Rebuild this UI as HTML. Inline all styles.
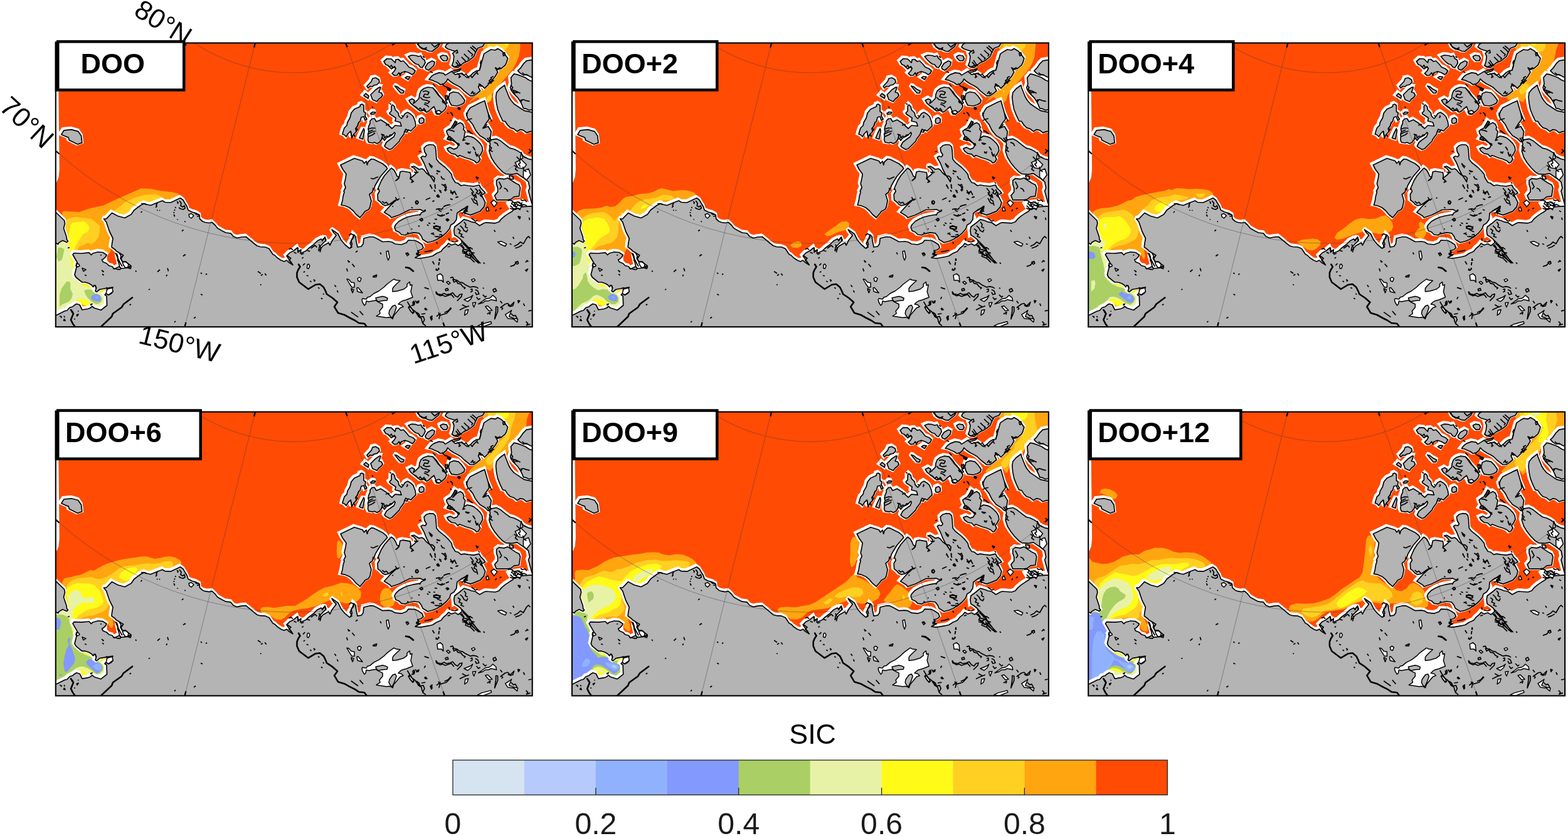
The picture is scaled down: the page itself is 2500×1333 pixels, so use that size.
<!DOCTYPE html>
<html lang="en"><head><meta charset="utf-8"><title>SIC after DOO</title>
<style>html,body{margin:0;padding:0;background:#fff}body{width:2500px;height:1333px;overflow:hidden}svg{display:block}text{font-family:"Liberation Sans",Arial,Helvetica,sans-serif;fill:#000}.lab{font-weight:700;font-size:45px}.ax{font-size:43.5px}.tk{font-size:48.2px;text-anchor:middle;fill:#1a1a1a}</style></head><body>
<svg xmlns="http://www.w3.org/2000/svg" width="2500" height="1333" viewBox="0 0 2500 1333">
<defs>
<clipPath id="pc"><rect x="88.8" y="68.5" width="759.9" height="452.7"/></clipPath>
<g id="land">
<path d="M183.5 400.0 L186.0 404.0 L190.0 403.0 L196.5 407.0 L193.0 412.0 L195.0 417.0 L200.0 417.0 L205.0 421.0 L209.0 424.0 L205.0 427.0 L193.0 428.0 L190.0 425.0 L186.0 420.0 L184.5 413.0 L183.0 408.0ZM165.0 410.0 L170.5 409.0 L170.8 418.0 L174.0 420.0 L179.0 422.8 L183.0 425.5 L182.0 429.0 L179.0 425.0 L173.5 423.5 L170.0 420.0 L164.0 417.5ZM811.0 320.0 L833.0 317.0 L844.0 323.0 L840.0 330.0 L820.0 335.0 L815.0 337.0 L810.0 330.0 L806.0 323.0ZM721.0 338.0 L728.0 337.0 L733.0 346.0 L733.0 354.0 L729.0 362.0 L725.0 370.0 L724.0 378.0 L720.0 380.0 L721.0 366.0 L725.0 358.0 L726.0 350.0Z" fill="#fff"/>
<path d="M80.0 540.0 L88.0 503.0 L90.0 502.5 L103.0 496.0 L107.0 495.0 L111.0 490.5 L116.0 489.0 L118.0 487.0 L122.0 484.5 L127.0 486.0 L129.0 490.0 L131.0 494.0 L140.0 492.5 L144.0 491.0 L147.0 488.5 L150.0 491.0 L161.0 494.5 L170.5 487.0 L170.0 472.0 L167.0 470.0 L169.0 468.0 L173.0 470.5 L177.5 468.0 L180.0 465.0 L178.5 461.0 L180.0 458.0 L170.0 459.5 L159.0 461.5 L154.0 465.5 L152.0 464.0 L153.5 459.0 L152.0 455.0 L150.0 455.0 L148.5 457.5 L146.0 454.5 L142.0 452.0 L136.0 450.0 L131.0 450.0 L127.0 447.0 L121.0 442.0 L119.0 438.0 L120.0 434.0 L122.0 426.0 L121.0 423.0 L124.0 420.0 L120.0 413.0 L116.0 406.0 L118.0 403.5 L130.0 404.0 L142.0 402.8 L145.5 406.5 L148.0 404.0 L156.0 401.8 L164.0 402.5 L170.0 406.5 L168.5 409.5 L165.0 413.0 L162.5 414.0 L164.0 417.5 L170.0 420.0 L173.5 423.5 L179.0 425.0 L182.0 429.0 L190.0 425.0 L193.0 428.0 L205.0 427.0 L209.0 424.0 L205.0 421.0 L200.0 417.0 L195.0 417.0 L193.0 412.0 L196.5 407.0 L190.0 403.0 L185.0 400.0 L184.0 398.5 L178.0 394.0 L178.5 389.0 L180.0 380.0 L174.5 369.0 L169.5 354.0 L165.5 349.0 L169.5 348.8 L178.5 339.5 L188.0 344.5 L199.0 347.5 L209.0 342.0 L214.0 335.0 L224.0 327.5 L230.0 324.5 L234.0 326.0 L240.0 327.5 L251.0 323.0 L259.0 320.0 L263.0 322.5 L272.0 323.0 L278.5 320.0 L287.5 315.8 L292.0 319.0 L294.5 323.5 L298.0 329.0 L300.0 335.0 L306.0 338.0 L313.0 340.0 L318.0 343.0 L318.5 349.0 L323.0 353.0 L327.0 354.5 L333.0 355.5 L338.0 354.5 L343.0 359.0 L347.0 364.0 L354.0 368.0 L360.0 371.0 L368.0 372.0 L372.0 377.0 L378.0 379.5 L385.0 378.0 L392.0 377.5 L400.0 384.0 L406.0 389.0 L410.0 392.0 L415.0 393.5 L423.0 394.0 L429.0 396.5 L432.0 401.0 L435.0 405.5 L438.0 407.0 L442.0 411.0 L448.0 415.0 L453.0 417.0 L457.0 415.0 L460.0 418.0 L467.0 422.5 L464.0 418.0 L459.0 411.0 L457.0 408.0 L462.0 403.0 L468.0 400.0 L474.0 395.0 L476.0 401.0 L480.0 398.0 L479.0 404.0 L488.0 400.0 L492.0 396.0 L500.0 390.0 L506.0 384.0 L512.0 381.0 L514.0 384.0 L518.0 378.0 L520.0 383.0 L509.0 394.0 L508.0 400.0 L515.0 392.0 L524.0 387.0 L526.0 391.0 L530.0 383.0 L534.0 378.0 L536.0 375.0 L532.0 371.0 L529.0 366.0 L539.0 373.0 L544.0 383.0 L550.0 390.0 L557.0 396.0 L561.0 394.0 L558.0 388.0 L562.0 380.0 L564.0 374.0 L567.0 377.0 L568.0 385.0 L570.0 394.0 L576.0 393.0 L579.0 389.0 L580.0 380.0 L590.0 377.5 L596.0 378.0 L602.0 381.0 L610.0 385.5 L620.0 385.0 L625.0 386.0 L630.0 389.0 L640.0 390.0 L648.0 387.0 L651.0 383.0 L662.0 383.5 L667.0 386.0 L673.0 390.0 L675.0 395.0 L672.0 398.0 L666.0 400.0 L667.0 404.0 L664.0 406.0 L668.0 407.0 L662.0 411.0 L670.0 412.0 L684.0 409.5 L690.0 408.0 L696.0 404.0 L703.0 401.0 L707.0 396.0 L712.0 392.0 L715.0 388.0 L719.8 390.7 L725.8 388.8 L730.8 391.7 L736.8 386.8 L734.8 381.8 L729.8 377.8 L724.8 374.8 L723.8 367.8 L724.8 361.8 L732.8 355.8 L739.8 349.9 L746.8 351.8 L751.7 353.8 L757.7 354.8 L764.7 359.8 L771.7 355.8 L774.7 354.8 L789.7 355.8 L795.6 353.8 L799.6 348.9 L805.6 343.9 L811.6 339.9 L816.6 336.9 L819.6 333.9 L825.6 331.9 L831.5 329.9 L837.5 329.4 L844.5 328.9 L859.5 328.9 L860.0 540.0ZM86.0 338.0 L89.5 339.0 L102.5 351.5 L103.5 356.0 L101.5 364.0 L106.2 378.0 L106.5 382.0 L108.5 384.5 L106.5 386.5 L100.0 383.5 L94.5 386.5 L92.5 389.5 L86.0 385.5ZM97.8 214.4 L102.0 207.8 L114.0 206.6 L124.8 209.6 L129.6 216.8 L130.8 227.6 L123.6 230.0 L110.4 223.4 L109.2 219.2 L104.4 217.4ZM543.0 263.0 L565.0 252.5 L578.0 256.5 L580.5 260.5 L584.0 257.0 L585.5 263.0 L587.0 258.0 L592.0 253.5 L596.0 254.0 L610.0 261.0 L616.0 266.0 L617.5 269.0 L614.0 273.0 L607.0 281.0 L602.0 289.0 L598.0 296.0 L596.0 303.0 L595.0 300.0 L594.0 306.0 L589.0 310.0 L592.0 320.0 L590.0 330.0 L588.0 334.0 L582.0 337.0 L580.0 340.0 L574.0 347.0 L568.0 342.0 L563.0 336.0 L557.0 331.0 L550.0 328.0 L544.0 327.0 L546.0 320.0 L547.0 313.0 L549.0 306.0 L548.0 305.0 L551.0 299.0 L549.0 293.0 L551.0 284.0 L552.0 277.5 L546.5 270.0ZM624.0 268.0 L628.0 271.0 L631.0 276.0 L633.0 281.0 L636.0 282.0 L634.0 286.0 L631.0 288.0 L636.0 284.0 L637.0 279.0 L638.0 274.0 L642.0 273.0 L654.0 275.0 L655.0 280.0 L654.0 285.0 L657.0 282.0 L662.0 278.0 L664.0 273.0 L660.0 268.0 L656.0 266.0 L660.0 265.0 L665.0 268.0 L668.0 270.0 L673.0 269.0 L676.0 271.0 L680.0 276.0 L685.0 280.0 L690.0 281.0 L693.0 284.0 L692.0 290.0 L689.0 285.0 L684.0 278.0 L680.0 270.0 L676.0 260.0 L671.0 251.0 L674.0 249.0 L678.0 250.0 L680.0 247.0 L677.0 242.0 L676.0 236.0 L680.0 232.0 L685.0 230.5 L691.0 231.0 L694.0 234.0 L695.0 240.0 L695.5 248.0 L696.0 254.0 L700.0 259.0 L705.0 263.0 L710.0 267.0 L716.0 273.0 L720.0 278.0 L721.0 283.0 L724.0 288.0 L726.0 291.0 L730.0 292.0 L735.0 296.0 L740.0 295.0 L746.0 296.0 L755.0 297.0 L764.0 295.0 L766.7 300.0 L771.7 305.0 L773.7 308.0 L767.7 310.9 L773.7 322.9 L771.7 329.9 L765.7 336.9 L755.7 340.9 L749.8 342.9 L743.8 340.9 L739.8 337.9 L744.8 333.9 L745.8 328.9 L739.8 332.9 L732.8 336.9 L728.8 339.9 L727.8 349.9 L723.8 355.8 L718.8 358.8 L716.8 364.8 L711.8 370.8 L704.9 376.8 L696.9 381.8 L689.9 384.8 L681.9 386.8 L673.9 381.8 L671.9 376.8 L668.0 371.8 L660.0 370.8 L650.0 372.8 L646.0 375.0 L640.0 374.0 L636.0 370.0 L631.0 368.0 L629.0 362.0 L631.0 358.0 L636.0 353.0 L643.0 349.0 L650.0 346.0 L658.0 344.0 L664.0 343.0 L670.0 342.0 L672.0 339.0 L678.0 336.5 L674.0 336.0 L670.0 334.0 L660.0 334.5 L653.0 334.5 L644.0 339.0 L636.0 343.0 L630.0 345.0 L624.0 347.0 L622.0 344.5 L612.5 338.5 L623.0 327.0 L633.0 317.8 L629.0 320.0 L620.0 326.5 L614.0 328.0 L610.0 326.0 L607.0 322.5 L602.5 319.0 L602.0 310.0 L605.0 305.0 L603.0 300.0 L602.0 302.0 L605.0 295.0 L608.0 288.0 L613.0 280.0 L620.0 272.0ZM560.0 180.0 L565.0 174.0 L574.0 170.0 L574.5 167.0 L577.0 166.0 L580.0 168.0 L580.0 173.0 L580.0 178.0 L583.0 180.0 L582.0 185.0 L585.0 190.0 L582.0 192.0 L580.0 186.0 L576.0 187.0 L574.0 194.0 L572.0 195.0 L570.0 201.0 L567.0 205.0 L568.0 210.0 L564.0 214.0 L561.0 220.0 L560.0 214.0 L559.0 209.0 L555.0 213.0 L552.0 218.0 L549.0 215.0 L546.0 214.0 L547.0 210.0 L549.0 204.0 L553.0 200.0 L554.0 195.0 L558.0 188.0ZM573.0 220.0 L576.0 213.0 L580.0 205.0 L581.0 208.0 L580.0 215.0 L578.5 222.0ZM591.0 181.0 L594.0 178.5 L599.0 179.0 L597.0 181.5 L592.0 182.5ZM590.0 193.0 L593.0 189.5 L597.0 189.0 L600.0 194.0 L607.0 191.0 L615.0 196.0 L625.0 205.0 L630.0 200.0 L640.0 201.0 L638.0 195.0 L630.0 193.0 L631.0 188.0 L622.0 182.0 L621.0 180.0 L624.0 177.0 L624.0 169.0 L626.0 167.0 L629.0 170.0 L630.0 175.0 L635.0 180.0 L636.0 185.0 L640.0 189.0 L642.0 187.0 L646.0 181.0 L650.0 179.0 L655.0 182.0 L659.0 186.0 L662.0 194.0 L663.0 201.0 L659.0 205.0 L655.0 209.0 L651.0 207.0 L649.0 211.0 L645.0 210.0 L644.0 214.0 L638.0 222.0 L637.0 225.0 L630.0 232.0 L625.0 237.0 L621.0 238.5 L615.0 235.0 L613.0 233.0 L616.0 227.0 L621.0 223.0 L628.0 218.0 L630.0 213.0 L629.0 211.0 L624.0 216.0 L620.0 218.0 L616.0 220.0 L613.0 224.0 L610.0 220.0 L608.0 223.0 L605.0 227.0 L601.0 229.0 L597.0 227.0 L594.0 228.0 L588.0 227.0 L586.5 223.0 L587.0 218.0 L586.5 214.0 L588.0 210.0 L587.0 206.0 L588.0 201.0 L590.0 197.0ZM668.0 193.0 L669.0 189.0 L673.0 187.5 L676.0 190.0 L676.0 195.0 L672.0 197.0 L669.0 196.5ZM694.0 178.0 L696.0 182.0 L700.0 182.5 L704.0 179.0 L700.0 176.0ZM612.0 98.0 L617.0 93.5 L624.0 94.0 L630.0 100.0 L631.0 95.0 L635.0 94.5 L639.0 98.0 L643.0 97.0 L648.0 102.0 L652.0 107.0 L658.0 109.5 L662.0 113.0 L660.0 117.0 L657.0 119.0 L652.0 116.0 L646.0 114.0 L640.0 116.0 L638.0 120.0 L636.0 116.0 L633.0 120.0 L629.0 120.5 L625.0 117.0 L629.0 113.0 L631.0 109.0 L628.0 107.0 L624.0 110.0 L621.0 107.0 L618.0 104.0 L615.0 103.0ZM651.0 90.0 L656.0 88.0 L663.0 88.5 L667.0 90.0 L671.0 89.0 L673.0 93.0 L677.0 96.0 L678.0 100.0 L676.0 104.0 L673.0 108.0 L670.0 107.0 L667.0 103.0 L663.0 102.0 L659.0 99.0 L655.0 95.0ZM678.0 107.0 L682.0 101.0 L689.0 97.0 L693.0 99.0 L692.0 104.0 L687.0 109.0 L683.0 112.0 L679.0 110.0ZM702.0 90.0 L706.0 88.0 L712.0 89.0 L714.0 93.0 L712.0 97.0 L707.0 97.0 L703.0 93.0ZM646.0 124.0 L649.0 122.0 L654.0 122.5 L651.0 127.0ZM585.0 137.5 L592.0 130.0 L594.0 125.0 L599.0 124.0 L604.0 127.0 L605.0 131.0 L601.0 135.0 L596.0 136.0 L594.0 138.0 L590.0 137.5 L587.0 140.5ZM591.0 151.0 L599.0 143.0 L605.0 139.0 L607.0 139.0 L605.0 145.0 L604.0 147.0 L608.0 148.0 L610.0 152.0 L608.0 155.0 L604.0 158.0 L601.0 162.0 L594.0 159.0ZM580.0 152.5 L583.0 149.0 L588.0 153.0 L587.0 157.0 L584.0 155.0ZM629.5 137.0 L633.0 138.0 L638.0 142.0 L644.0 145.0 L643.0 148.5 L639.0 148.5 L635.0 144.0ZM652.0 160.0 L657.0 157.5 L661.0 160.0 L659.0 165.0 L663.0 162.0 L668.0 157.0 L669.0 150.0 L671.0 145.0 L676.0 141.0 L682.0 139.0 L690.0 140.0 L694.0 145.0 L699.0 152.0 L704.0 157.0 L709.0 163.0 L712.0 169.0 L710.0 174.0 L706.0 178.0 L700.0 182.0 L696.0 180.0 L692.0 170.0 L688.0 173.0 L684.0 177.0 L680.0 179.0 L676.0 176.0 L670.0 177.0 L665.0 173.0 L660.0 169.0 L655.0 165.0ZM715.0 156.0 L717.0 149.0 L723.0 146.5 L731.0 148.0 L736.0 153.0 L741.0 160.0 L740.0 164.0 L735.0 167.0 L728.0 169.0 L720.0 168.0 L717.0 163.0ZM665.0 66.0 L703.0 66.0 L699.0 74.0 L694.0 78.0 L689.0 82.0 L684.0 81.5 L679.0 79.0 L674.0 78.5 L669.0 75.0ZM709.9 75.0 L711.8 71.0 L719.8 66.0 L774.7 66.0 L769.7 74.0 L761.7 77.0 L757.7 84.9 L755.7 89.9 L749.8 94.9 L744.8 97.9 L739.8 99.9 L734.8 103.9 L729.8 107.9 L723.8 106.9 L720.8 103.9 L722.8 97.9 L723.8 89.9 L721.8 84.9 L725.8 81.9 L719.8 80.0 L713.8 78.0ZM683.9 126.8 L687.9 121.8 L691.9 118.9 L699.9 115.9 L706.9 116.9 L709.9 119.9 L714.8 116.9 L719.8 113.9 L725.8 118.9 L734.8 116.9 L739.8 119.9 L744.8 123.8 L749.8 120.8 L754.7 115.9 L759.7 112.9 L764.7 111.9 L765.7 106.9 L767.7 99.9 L769.7 92.9 L771.7 85.9 L777.7 81.9 L782.7 79.0 L789.7 80.0 L793.6 77.5 L799.6 80.9 L803.6 84.9 L809.6 92.9 L807.6 99.9 L805.6 103.9 L799.6 108.9 L793.6 110.9 L789.7 107.9 L793.6 114.9 L789.7 121.8 L784.7 127.8 L778.7 134.8 L772.7 140.8 L769.7 137.8 L764.7 133.8 L762.7 138.8 L765.7 144.8 L759.7 149.8 L754.7 152.8 L749.8 152.8 L744.8 148.8 L739.8 144.8 L734.8 139.8 L729.8 136.8 L723.8 133.8 L717.8 129.8 L713.8 125.8 L711.8 129.8 L706.9 134.3 L701.9 134.8 L697.9 131.8 L692.9 129.8 L688.9 127.8ZM851.5 94.9 L839.5 96.9 L834.5 101.9 L829.6 108.9 L825.6 112.9 L829.6 116.9 L834.5 119.9 L839.5 118.9 L844.5 121.8 L851.5 124.8ZM851.5 130.8 L843.5 127.8 L837.5 123.8 L832.5 121.8 L824.6 118.9 L819.6 117.9 L814.6 123.8 L815.6 133.8 L813.6 139.8 L815.6 144.8 L819.6 149.8 L825.6 155.8 L829.6 161.7 L832.5 167.7 L834.5 172.7 L839.5 173.7 L843.5 175.7 L851.5 174.7ZM804.6 135.8 L805.6 139.8 L807.6 144.8 L809.6 149.8 L811.6 154.8 L814.6 159.8 L819.6 165.7 L825.6 169.7 L831.5 173.7 L836.5 176.7 L851.5 179.7 L851.5 209.6 L845.5 209.6 L839.5 211.6 L834.5 207.6 L829.6 206.6 L824.6 209.6 L819.6 205.6 L813.6 203.6 L809.6 199.7 L805.6 193.7 L801.6 193.0 L797.6 184.7 L793.6 174.7 L791.6 164.7 L790.6 154.8 L791.6 147.8 L796.6 141.8ZM743.8 184.7 L745.8 177.7 L749.8 171.7 L757.7 167.7 L765.7 163.7 L772.7 160.7 L774.7 167.7 L776.7 174.7 L778.7 181.7 L781.7 188.7 L783.7 193.0 L778.3 180.0 L779.9 189.9 L775.0 196.5 L770.0 204.8 L778.3 201.5 L783.2 209.7 L781.6 221.3 L783.2 222.9 L791.5 221.3 L798.1 224.6 L806.3 231.2 L812.9 236.1 L819.5 237.8 L826.1 241.1 L831.1 244.4 L834.4 249.3 L842.7 253.5 L860.8 257.6 L860.8 326.9 L847.9 324.6 L842.5 304.6 L844.5 299.7 L842.5 289.8 L834.6 283.7 L824.5 276.7 L816.2 278.2 L806.3 277.4 L801.4 274.1 L794.8 267.5 L788.2 259.2 L783.2 251.0 L779.9 241.1 L781.6 229.5 L779.9 224.6 L778.3 226.2 L773.3 221.3 L765.1 216.3 L758.5 208.1 L753.5 198.2 L745.3 188.3 L743.6 180.0ZM725.8 193.0 L728.8 195.0 L724.8 200.0 L721.8 204.9 L728.8 198.0 L733.8 195.5 L737.8 198.0 L739.8 202.9 L738.8 205.9 L741.8 209.9 L740.8 213.9 L739.8 219.9 L744.8 216.9 L750.7 217.9 L755.7 219.9 L760.7 223.9 L765.7 228.9 L768.7 233.9 L769.7 239.9 L766.7 245.8 L763.7 249.8 L765.7 253.8 L762.7 258.8 L759.7 259.8 L756.7 256.8 L749.8 253.8 L742.8 251.8 L737.8 249.8 L732.8 247.8 L729.8 249.8 L725.8 245.8 L719.8 244.8 L714.8 240.8 L712.8 236.9 L717.8 234.9 L723.8 237.9 L728.8 235.9 L730.8 231.9 L727.8 227.9 L721.8 223.9 L717.8 223.9 L712.8 221.9 L715.8 217.9 L712.8 212.9 L711.8 208.9 L715.8 205.9 L719.8 203.9ZM791.6 287.7 L795.6 284.7 L803.6 285.7 L809.6 283.7 L815.6 287.7 L821.6 291.7 L827.6 294.7 L829.6 299.7 L828.6 305.7 L827.6 312.7 L827.6 312.9 L819.6 313.9 L814.6 317.9 L809.6 318.9 L791.6 318.9 L788.7 311.9 L793.6 306.0 L793.6 300.0 L791.6 294.0Z" fill="#fff" stroke="#fff" stroke-width="6.8" stroke-linejoin="miter" stroke-miterlimit="2" transform="translate(-1.2 -1.5)"/>
<path d="M80.0 540.0 L88.0 503.0 L90.0 502.5 L103.0 496.0 L107.0 495.0 L111.0 490.5 L116.0 489.0 L118.0 487.0 L122.0 484.5 L127.0 486.0 L129.0 490.0 L131.0 494.0 L140.0 492.5 L144.0 491.0 L147.0 488.5 L150.0 491.0 L161.0 494.5 L170.5 487.0 L170.0 472.0 L167.0 470.0 L169.0 468.0 L173.0 470.5 L177.5 468.0 L180.0 465.0 L178.5 461.0 L180.0 458.0 L170.0 459.5 L159.0 461.5 L154.0 465.5 L152.0 464.0 L153.5 459.0 L152.0 455.0 L150.0 455.0 L148.5 457.5 L146.0 454.5 L142.0 452.0 L136.0 450.0 L131.0 450.0 L127.0 447.0 L121.0 442.0 L119.0 438.0 L120.0 434.0 L122.0 426.0 L121.0 423.0 L124.0 420.0 L120.0 413.0 L116.0 406.0 L118.0 403.5 L130.0 404.0 L142.0 402.8 L145.5 406.5 L148.0 404.0 L156.0 401.8 L164.0 402.5 L170.0 406.5 L168.5 409.5 L165.0 413.0 L162.5 414.0 L164.0 417.5 L170.0 420.0 L173.5 423.5 L179.0 425.0 L182.0 429.0 L190.0 425.0 L193.0 428.0 L205.0 427.0 L209.0 424.0 L205.0 421.0 L200.0 417.0 L195.0 417.0 L193.0 412.0 L196.5 407.0 L190.0 403.0 L185.0 400.0 L184.0 398.5 L178.0 394.0 L178.5 389.0 L180.0 380.0 L174.5 369.0 L169.5 354.0 L165.5 349.0 L169.5 348.8 L178.5 339.5 L188.0 344.5 L199.0 347.5 L209.0 342.0 L214.0 335.0 L224.0 327.5 L230.0 324.5 L234.0 326.0 L240.0 327.5 L251.0 323.0 L259.0 320.0 L263.0 322.5 L272.0 323.0 L278.5 320.0 L287.5 315.8 L292.0 319.0 L294.5 323.5 L298.0 329.0 L300.0 335.0 L306.0 338.0 L313.0 340.0 L318.0 343.0 L318.5 349.0 L323.0 353.0 L327.0 354.5 L333.0 355.5 L338.0 354.5 L343.0 359.0 L347.0 364.0 L354.0 368.0 L360.0 371.0 L368.0 372.0 L372.0 377.0 L378.0 379.5 L385.0 378.0 L392.0 377.5 L400.0 384.0 L406.0 389.0 L410.0 392.0 L415.0 393.5 L423.0 394.0 L429.0 396.5 L432.0 401.0 L435.0 405.5 L438.0 407.0 L442.0 411.0 L448.0 415.0 L453.0 417.0 L457.0 415.0 L460.0 418.0 L467.0 422.5 L464.0 418.0 L459.0 411.0 L457.0 408.0 L462.0 403.0 L468.0 400.0 L474.0 395.0 L476.0 401.0 L480.0 398.0 L479.0 404.0 L488.0 400.0 L492.0 396.0 L500.0 390.0 L506.0 384.0 L512.0 381.0 L514.0 384.0 L518.0 378.0 L520.0 383.0 L509.0 394.0 L508.0 400.0 L515.0 392.0 L524.0 387.0 L526.0 391.0 L530.0 383.0 L534.0 378.0 L536.0 375.0 L532.0 371.0 L529.0 366.0 L539.0 373.0 L544.0 383.0 L550.0 390.0 L557.0 396.0 L561.0 394.0 L558.0 388.0 L562.0 380.0 L564.0 374.0 L567.0 377.0 L568.0 385.0 L570.0 394.0 L576.0 393.0 L579.0 389.0 L580.0 380.0 L590.0 377.5 L596.0 378.0 L602.0 381.0 L610.0 385.5 L620.0 385.0 L625.0 386.0 L630.0 389.0 L640.0 390.0 L648.0 387.0 L651.0 383.0 L662.0 383.5 L667.0 386.0 L673.0 390.0 L675.0 395.0 L672.0 398.0 L666.0 400.0 L667.0 404.0 L664.0 406.0 L668.0 407.0 L662.0 411.0 L670.0 412.0 L684.0 409.5 L690.0 408.0 L696.0 404.0 L703.0 401.0 L707.0 396.0 L712.0 392.0 L715.0 388.0 L719.8 390.7 L725.8 388.8 L730.8 391.7 L736.8 386.8 L734.8 381.8 L729.8 377.8 L724.8 374.8 L723.8 367.8 L724.8 361.8 L732.8 355.8 L739.8 349.9 L746.8 351.8 L751.7 353.8 L757.7 354.8 L764.7 359.8 L771.7 355.8 L774.7 354.8 L789.7 355.8 L795.6 353.8 L799.6 348.9 L805.6 343.9 L811.6 339.9 L816.6 336.9 L819.6 333.9 L825.6 331.9 L831.5 329.9 L837.5 329.4 L844.5 328.9 L859.5 328.9 L860.0 540.0ZM86.0 338.0 L89.5 339.0 L102.5 351.5 L103.5 356.0 L101.5 364.0 L106.2 378.0 L106.5 382.0 L108.5 384.5 L106.5 386.5 L100.0 383.5 L94.5 386.5 L92.5 389.5 L86.0 385.5ZM97.8 214.4 L102.0 207.8 L114.0 206.6 L124.8 209.6 L129.6 216.8 L130.8 227.6 L123.6 230.0 L110.4 223.4 L109.2 219.2 L104.4 217.4ZM543.0 263.0 L565.0 252.5 L578.0 256.5 L580.5 260.5 L584.0 257.0 L585.5 263.0 L587.0 258.0 L592.0 253.5 L596.0 254.0 L610.0 261.0 L616.0 266.0 L617.5 269.0 L614.0 273.0 L607.0 281.0 L602.0 289.0 L598.0 296.0 L596.0 303.0 L595.0 300.0 L594.0 306.0 L589.0 310.0 L592.0 320.0 L590.0 330.0 L588.0 334.0 L582.0 337.0 L580.0 340.0 L574.0 347.0 L568.0 342.0 L563.0 336.0 L557.0 331.0 L550.0 328.0 L544.0 327.0 L546.0 320.0 L547.0 313.0 L549.0 306.0 L548.0 305.0 L551.0 299.0 L549.0 293.0 L551.0 284.0 L552.0 277.5 L546.5 270.0ZM624.0 268.0 L628.0 271.0 L631.0 276.0 L633.0 281.0 L636.0 282.0 L634.0 286.0 L631.0 288.0 L636.0 284.0 L637.0 279.0 L638.0 274.0 L642.0 273.0 L654.0 275.0 L655.0 280.0 L654.0 285.0 L657.0 282.0 L662.0 278.0 L664.0 273.0 L660.0 268.0 L656.0 266.0 L660.0 265.0 L665.0 268.0 L668.0 270.0 L673.0 269.0 L676.0 271.0 L680.0 276.0 L685.0 280.0 L690.0 281.0 L693.0 284.0 L692.0 290.0 L689.0 285.0 L684.0 278.0 L680.0 270.0 L676.0 260.0 L671.0 251.0 L674.0 249.0 L678.0 250.0 L680.0 247.0 L677.0 242.0 L676.0 236.0 L680.0 232.0 L685.0 230.5 L691.0 231.0 L694.0 234.0 L695.0 240.0 L695.5 248.0 L696.0 254.0 L700.0 259.0 L705.0 263.0 L710.0 267.0 L716.0 273.0 L720.0 278.0 L721.0 283.0 L724.0 288.0 L726.0 291.0 L730.0 292.0 L735.0 296.0 L740.0 295.0 L746.0 296.0 L755.0 297.0 L764.0 295.0 L766.7 300.0 L771.7 305.0 L773.7 308.0 L767.7 310.9 L773.7 322.9 L771.7 329.9 L765.7 336.9 L755.7 340.9 L749.8 342.9 L743.8 340.9 L739.8 337.9 L744.8 333.9 L745.8 328.9 L739.8 332.9 L732.8 336.9 L728.8 339.9 L727.8 349.9 L723.8 355.8 L718.8 358.8 L716.8 364.8 L711.8 370.8 L704.9 376.8 L696.9 381.8 L689.9 384.8 L681.9 386.8 L673.9 381.8 L671.9 376.8 L668.0 371.8 L660.0 370.8 L650.0 372.8 L646.0 375.0 L640.0 374.0 L636.0 370.0 L631.0 368.0 L629.0 362.0 L631.0 358.0 L636.0 353.0 L643.0 349.0 L650.0 346.0 L658.0 344.0 L664.0 343.0 L670.0 342.0 L672.0 339.0 L678.0 336.5 L674.0 336.0 L670.0 334.0 L660.0 334.5 L653.0 334.5 L644.0 339.0 L636.0 343.0 L630.0 345.0 L624.0 347.0 L622.0 344.5 L612.5 338.5 L623.0 327.0 L633.0 317.8 L629.0 320.0 L620.0 326.5 L614.0 328.0 L610.0 326.0 L607.0 322.5 L602.5 319.0 L602.0 310.0 L605.0 305.0 L603.0 300.0 L602.0 302.0 L605.0 295.0 L608.0 288.0 L613.0 280.0 L620.0 272.0ZM560.0 180.0 L565.0 174.0 L574.0 170.0 L574.5 167.0 L577.0 166.0 L580.0 168.0 L580.0 173.0 L580.0 178.0 L583.0 180.0 L582.0 185.0 L585.0 190.0 L582.0 192.0 L580.0 186.0 L576.0 187.0 L574.0 194.0 L572.0 195.0 L570.0 201.0 L567.0 205.0 L568.0 210.0 L564.0 214.0 L561.0 220.0 L560.0 214.0 L559.0 209.0 L555.0 213.0 L552.0 218.0 L549.0 215.0 L546.0 214.0 L547.0 210.0 L549.0 204.0 L553.0 200.0 L554.0 195.0 L558.0 188.0ZM573.0 220.0 L576.0 213.0 L580.0 205.0 L581.0 208.0 L580.0 215.0 L578.5 222.0ZM591.0 181.0 L594.0 178.5 L599.0 179.0 L597.0 181.5 L592.0 182.5ZM590.0 193.0 L593.0 189.5 L597.0 189.0 L600.0 194.0 L607.0 191.0 L615.0 196.0 L625.0 205.0 L630.0 200.0 L640.0 201.0 L638.0 195.0 L630.0 193.0 L631.0 188.0 L622.0 182.0 L621.0 180.0 L624.0 177.0 L624.0 169.0 L626.0 167.0 L629.0 170.0 L630.0 175.0 L635.0 180.0 L636.0 185.0 L640.0 189.0 L642.0 187.0 L646.0 181.0 L650.0 179.0 L655.0 182.0 L659.0 186.0 L662.0 194.0 L663.0 201.0 L659.0 205.0 L655.0 209.0 L651.0 207.0 L649.0 211.0 L645.0 210.0 L644.0 214.0 L638.0 222.0 L637.0 225.0 L630.0 232.0 L625.0 237.0 L621.0 238.5 L615.0 235.0 L613.0 233.0 L616.0 227.0 L621.0 223.0 L628.0 218.0 L630.0 213.0 L629.0 211.0 L624.0 216.0 L620.0 218.0 L616.0 220.0 L613.0 224.0 L610.0 220.0 L608.0 223.0 L605.0 227.0 L601.0 229.0 L597.0 227.0 L594.0 228.0 L588.0 227.0 L586.5 223.0 L587.0 218.0 L586.5 214.0 L588.0 210.0 L587.0 206.0 L588.0 201.0 L590.0 197.0ZM668.0 193.0 L669.0 189.0 L673.0 187.5 L676.0 190.0 L676.0 195.0 L672.0 197.0 L669.0 196.5ZM694.0 178.0 L696.0 182.0 L700.0 182.5 L704.0 179.0 L700.0 176.0ZM612.0 98.0 L617.0 93.5 L624.0 94.0 L630.0 100.0 L631.0 95.0 L635.0 94.5 L639.0 98.0 L643.0 97.0 L648.0 102.0 L652.0 107.0 L658.0 109.5 L662.0 113.0 L660.0 117.0 L657.0 119.0 L652.0 116.0 L646.0 114.0 L640.0 116.0 L638.0 120.0 L636.0 116.0 L633.0 120.0 L629.0 120.5 L625.0 117.0 L629.0 113.0 L631.0 109.0 L628.0 107.0 L624.0 110.0 L621.0 107.0 L618.0 104.0 L615.0 103.0ZM651.0 90.0 L656.0 88.0 L663.0 88.5 L667.0 90.0 L671.0 89.0 L673.0 93.0 L677.0 96.0 L678.0 100.0 L676.0 104.0 L673.0 108.0 L670.0 107.0 L667.0 103.0 L663.0 102.0 L659.0 99.0 L655.0 95.0ZM678.0 107.0 L682.0 101.0 L689.0 97.0 L693.0 99.0 L692.0 104.0 L687.0 109.0 L683.0 112.0 L679.0 110.0ZM702.0 90.0 L706.0 88.0 L712.0 89.0 L714.0 93.0 L712.0 97.0 L707.0 97.0 L703.0 93.0ZM646.0 124.0 L649.0 122.0 L654.0 122.5 L651.0 127.0ZM585.0 137.5 L592.0 130.0 L594.0 125.0 L599.0 124.0 L604.0 127.0 L605.0 131.0 L601.0 135.0 L596.0 136.0 L594.0 138.0 L590.0 137.5 L587.0 140.5ZM591.0 151.0 L599.0 143.0 L605.0 139.0 L607.0 139.0 L605.0 145.0 L604.0 147.0 L608.0 148.0 L610.0 152.0 L608.0 155.0 L604.0 158.0 L601.0 162.0 L594.0 159.0ZM580.0 152.5 L583.0 149.0 L588.0 153.0 L587.0 157.0 L584.0 155.0ZM629.5 137.0 L633.0 138.0 L638.0 142.0 L644.0 145.0 L643.0 148.5 L639.0 148.5 L635.0 144.0ZM652.0 160.0 L657.0 157.5 L661.0 160.0 L659.0 165.0 L663.0 162.0 L668.0 157.0 L669.0 150.0 L671.0 145.0 L676.0 141.0 L682.0 139.0 L690.0 140.0 L694.0 145.0 L699.0 152.0 L704.0 157.0 L709.0 163.0 L712.0 169.0 L710.0 174.0 L706.0 178.0 L700.0 182.0 L696.0 180.0 L692.0 170.0 L688.0 173.0 L684.0 177.0 L680.0 179.0 L676.0 176.0 L670.0 177.0 L665.0 173.0 L660.0 169.0 L655.0 165.0ZM715.0 156.0 L717.0 149.0 L723.0 146.5 L731.0 148.0 L736.0 153.0 L741.0 160.0 L740.0 164.0 L735.0 167.0 L728.0 169.0 L720.0 168.0 L717.0 163.0ZM665.0 66.0 L703.0 66.0 L699.0 74.0 L694.0 78.0 L689.0 82.0 L684.0 81.5 L679.0 79.0 L674.0 78.5 L669.0 75.0ZM709.9 75.0 L711.8 71.0 L719.8 66.0 L774.7 66.0 L769.7 74.0 L761.7 77.0 L757.7 84.9 L755.7 89.9 L749.8 94.9 L744.8 97.9 L739.8 99.9 L734.8 103.9 L729.8 107.9 L723.8 106.9 L720.8 103.9 L722.8 97.9 L723.8 89.9 L721.8 84.9 L725.8 81.9 L719.8 80.0 L713.8 78.0ZM683.9 126.8 L687.9 121.8 L691.9 118.9 L699.9 115.9 L706.9 116.9 L709.9 119.9 L714.8 116.9 L719.8 113.9 L725.8 118.9 L734.8 116.9 L739.8 119.9 L744.8 123.8 L749.8 120.8 L754.7 115.9 L759.7 112.9 L764.7 111.9 L765.7 106.9 L767.7 99.9 L769.7 92.9 L771.7 85.9 L777.7 81.9 L782.7 79.0 L789.7 80.0 L793.6 77.5 L799.6 80.9 L803.6 84.9 L809.6 92.9 L807.6 99.9 L805.6 103.9 L799.6 108.9 L793.6 110.9 L789.7 107.9 L793.6 114.9 L789.7 121.8 L784.7 127.8 L778.7 134.8 L772.7 140.8 L769.7 137.8 L764.7 133.8 L762.7 138.8 L765.7 144.8 L759.7 149.8 L754.7 152.8 L749.8 152.8 L744.8 148.8 L739.8 144.8 L734.8 139.8 L729.8 136.8 L723.8 133.8 L717.8 129.8 L713.8 125.8 L711.8 129.8 L706.9 134.3 L701.9 134.8 L697.9 131.8 L692.9 129.8 L688.9 127.8ZM851.5 94.9 L839.5 96.9 L834.5 101.9 L829.6 108.9 L825.6 112.9 L829.6 116.9 L834.5 119.9 L839.5 118.9 L844.5 121.8 L851.5 124.8ZM851.5 130.8 L843.5 127.8 L837.5 123.8 L832.5 121.8 L824.6 118.9 L819.6 117.9 L814.6 123.8 L815.6 133.8 L813.6 139.8 L815.6 144.8 L819.6 149.8 L825.6 155.8 L829.6 161.7 L832.5 167.7 L834.5 172.7 L839.5 173.7 L843.5 175.7 L851.5 174.7ZM804.6 135.8 L805.6 139.8 L807.6 144.8 L809.6 149.8 L811.6 154.8 L814.6 159.8 L819.6 165.7 L825.6 169.7 L831.5 173.7 L836.5 176.7 L851.5 179.7 L851.5 209.6 L845.5 209.6 L839.5 211.6 L834.5 207.6 L829.6 206.6 L824.6 209.6 L819.6 205.6 L813.6 203.6 L809.6 199.7 L805.6 193.7 L801.6 193.0 L797.6 184.7 L793.6 174.7 L791.6 164.7 L790.6 154.8 L791.6 147.8 L796.6 141.8ZM743.8 184.7 L745.8 177.7 L749.8 171.7 L757.7 167.7 L765.7 163.7 L772.7 160.7 L774.7 167.7 L776.7 174.7 L778.7 181.7 L781.7 188.7 L783.7 193.0 L778.3 180.0 L779.9 189.9 L775.0 196.5 L770.0 204.8 L778.3 201.5 L783.2 209.7 L781.6 221.3 L783.2 222.9 L791.5 221.3 L798.1 224.6 L806.3 231.2 L812.9 236.1 L819.5 237.8 L826.1 241.1 L831.1 244.4 L834.4 249.3 L842.7 253.5 L860.8 257.6 L860.8 326.9 L847.9 324.6 L842.5 304.6 L844.5 299.7 L842.5 289.8 L834.6 283.7 L824.5 276.7 L816.2 278.2 L806.3 277.4 L801.4 274.1 L794.8 267.5 L788.2 259.2 L783.2 251.0 L779.9 241.1 L781.6 229.5 L779.9 224.6 L778.3 226.2 L773.3 221.3 L765.1 216.3 L758.5 208.1 L753.5 198.2 L745.3 188.3 L743.6 180.0ZM725.8 193.0 L728.8 195.0 L724.8 200.0 L721.8 204.9 L728.8 198.0 L733.8 195.5 L737.8 198.0 L739.8 202.9 L738.8 205.9 L741.8 209.9 L740.8 213.9 L739.8 219.9 L744.8 216.9 L750.7 217.9 L755.7 219.9 L760.7 223.9 L765.7 228.9 L768.7 233.9 L769.7 239.9 L766.7 245.8 L763.7 249.8 L765.7 253.8 L762.7 258.8 L759.7 259.8 L756.7 256.8 L749.8 253.8 L742.8 251.8 L737.8 249.8 L732.8 247.8 L729.8 249.8 L725.8 245.8 L719.8 244.8 L714.8 240.8 L712.8 236.9 L717.8 234.9 L723.8 237.9 L728.8 235.9 L730.8 231.9 L727.8 227.9 L721.8 223.9 L717.8 223.9 L712.8 221.9 L715.8 217.9 L712.8 212.9 L711.8 208.9 L715.8 205.9 L719.8 203.9ZM791.6 287.7 L795.6 284.7 L803.6 285.7 L809.6 283.7 L815.6 287.7 L821.6 291.7 L827.6 294.7 L829.6 299.7 L828.6 305.7 L827.6 312.7 L827.6 312.9 L819.6 313.9 L814.6 317.9 L809.6 318.9 L791.6 318.9 L788.7 311.9 L793.6 306.0 L793.6 300.0 L791.6 294.0Z" fill="#b4b4b4" stroke="#000" stroke-width="1.7" stroke-linejoin="round"/>
<path d="M577.0 478.0 L578.0 476.0 L584.0 477.0 L586.0 474.0 L590.0 473.0 L596.0 468.0 L604.0 464.0 L612.0 458.0 L616.0 454.0 L621.0 450.0 L628.0 445.0 L631.0 446.5 L638.0 447.5 L633.0 452.0 L628.0 457.0 L626.0 460.0 L626.0 465.0 L634.0 464.0 L644.0 461.0 L649.0 457.0 L649.0 453.0 L653.0 449.5 L654.0 455.0 L657.0 454.0 L656.0 460.0 L655.0 465.0 L658.0 474.0 L653.0 476.0 L648.0 478.0 L641.0 480.0 L638.0 482.0 L635.0 485.0 L640.0 486.0 L643.0 489.0 L638.0 491.0 L633.0 497.0 L628.0 503.0 L626.0 508.5 L623.0 506.5 L620.0 506.0 L616.0 506.5 L600.0 504.0 L606.0 500.0 L605.0 496.0 L610.0 490.0 L610.0 485.0 L606.0 483.0 L602.0 481.0 L599.0 479.0 L593.0 480.0 L588.0 481.0 L584.0 480.0 L583.0 485.0 L581.0 487.0 L578.0 482.0ZM553.0 445.0 L556.0 445.5 L560.0 450.0 L565.0 451.0 L565.0 458.0 L561.0 458.0 L557.0 452.0ZM570.0 444.0 L573.0 442.0 L576.0 444.0 L574.0 449.0 L571.0 448.0ZM569.0 459.0 L571.0 458.5 L578.0 467.0 L570.0 465.0ZM560.0 460.0 L564.0 462.0 L562.0 467.0ZM490.0 422.0 L492.0 421.0 L494.0 424.0 L492.0 428.5 L489.5 427.5ZM616.0 401.0 L619.0 400.0 L621.0 410.0 L619.0 415.0 L617.0 410.0ZM647.0 404.0 L650.0 403.0 L652.0 406.0 L649.5 408.0ZM651.0 490.0 L654.0 488.0 L660.0 498.0 L658.0 500.0ZM658.0 482.0 L660.0 480.0 L661.0 485.0 L659.0 486.0ZM301.0 342.0 L305.0 340.5 L309.0 344.0 L305.0 348.0 L302.0 346.0ZM131.0 427.5 L137.0 430.0 L133.0 432.5ZM121.5 420.0 L126.0 421.5 L127.0 424.0 L123.0 426.0ZM171.0 461.0 L179.0 459.0 L180.0 465.0 L173.0 470.0 L169.0 468.0ZM696.9 438.9 L701.9 436.4 L705.9 439.9 L706.9 449.9 L703.9 446.9 L697.9 446.9ZM711.8 449.9 L714.3 448.4 L717.8 451.4 L715.3 453.4ZM739.8 477.8 L744.8 475.8 L749.8 473.8 L753.7 470.8 L750.7 476.8 L745.8 480.8ZM762.7 484.8 L769.7 479.8 L773.7 476.8 L779.7 475.8 L782.7 473.8 L785.7 470.8 L790.6 474.8 L791.6 479.8 L787.7 478.8 L782.7 477.8 L778.7 479.8 L773.7 479.8 L769.7 482.8ZM741.8 494.8 L746.8 493.8 L744.8 499.8 L740.8 502.7ZM773.7 488.8 L777.7 487.8 L784.7 494.8 L779.7 495.8ZM805.6 501.7 L811.6 497.8 L815.6 494.8 L813.6 499.8 L811.6 504.7 L819.6 507.7 L825.6 508.7 L824.6 513.7 L818.6 508.7 L809.6 507.7ZM761.7 519.7 L767.7 516.7 L782.7 512.7 L783.7 515.7 L769.7 521.2ZM652.0 488.8 L656.0 490.8 L660.0 498.8 L656.0 497.8 L653.0 493.8ZM751.7 445.9 L755.7 444.4 L757.7 446.9 L753.7 449.4ZM753.7 482.8 L758.7 482.3 L756.7 486.8 L755.7 489.8 L754.2 486.8ZM821.6 418.0 L825.6 416.5 L826.6 420.0 L824.1 421.4ZM663.0 320.9 L666.0 320.4 L667.0 323.4 L664.0 324.4ZM669.0 349.9 L671.9 348.4 L673.9 350.3 L671.4 352.3ZM775.2 331.9 L777.7 329.9 L779.7 335.9 L775.7 336.4ZM782.7 322.9 L787.7 318.9 L792.6 323.9 L787.7 329.9ZM819.6 322.9 L827.6 321.9 L832.5 326.9 L829.6 332.9 L823.6 331.9ZM793.6 385.8 L799.6 384.8 L807.6 388.8 L805.6 392.7 L798.6 389.8ZM821.2 259.2 L831.1 254.3 L839.4 262.5 L834.4 269.1 L826.1 267.5ZM834.4 272.4 L842.7 269.1 L846.0 279.0 L839.4 287.3 L834.4 282.3ZM831.1 242.7 L833.6 252.6 L829.4 253.5Z" fill="#fff" stroke="#000" stroke-width="1.5" stroke-linejoin="round"/>
<path d="M599.0 475.0 L610.0 472.5 L614.0 473.5 L618.0 475.5 L617.0 479.0 L610.0 479.5 L603.0 481.0 L600.0 478.0ZM621.0 495.0 L626.0 488.0 L630.0 486.5 L632.0 490.0 L629.0 499.0 L625.0 507.0 L622.0 504.0 L620.0 500.0Z" fill="#b4b4b4" stroke="#000" stroke-width="1.5" stroke-linejoin="round"/>
<path d="M224.5 339.0 L226.5 337.0M250.0 335.5 L251.5 335.0M254.0 336.0 L255.0 335.0M248.0 331.0 L250.0 329.0 L249.0 327.0 L251.0 324.0M280.0 330.0 L279.5 332.0M278.8 334.0 L278.0 336.0M277.5 338.0 L277.2 340.0M277.0 342.0 L278.5 344.5 L277.5 345.0M282.5 350.5 L283.5 349.5M294.5 354.0 L295.5 352.5M290.0 368.5 L292.5 366.5M292.0 408.5 L295.0 406.0M286.0 320.0 L289.0 324.0 L288.0 328.0 L291.0 330.0 L294.0 328.0 L295.0 332.0 L292.0 334.0 L288.0 333.0 L285.0 331.0M310.0 339.0 L313.0 342.0 L317.0 342.0 L318.0 344.5 L314.0 345.0M282.0 321.0 L284.0 323.0 L283.0 325.0M225.0 324.5 L230.0 325.0 L234.0 326.5M108.0 395.5 L111.0 394.5M162.0 431.0 L165.0 433.0 L164.0 434.0M163.0 437.0 L165.5 439.0M135.0 438.5 L138.0 439.5M216.0 431.5 L217.5 433.5M251.0 433.5 L255.0 430.0M267.0 427.5 L268.5 432.5M265.0 440.5 L266.5 438.0M237.0 462.0 L239.0 461.0M206.5 486.5 L209.0 485.0M292.0 408.0 L296.0 406.0M320.0 435.0 L322.0 436.5M328.0 438.0 L330.0 436.5M320.0 469.0 L323.0 470.5M309.0 507.5 L312.0 505.5M278.0 514.0 L280.0 512.0M118.0 509.0 L120.0 508.5M122.0 502.0 L125.0 501.0 L123.0 504.0 L122.0 502.0M124.0 496.0 L125.5 496.5M95.0 504.0 L98.0 505.0 L97.5 507.0M102.0 504.0 L103.5 506.0M102.5 508.5 L104.0 511.5 L101.5 511.0 L102.5 508.5M144.0 485.5 L147.0 484.5 L145.5 486.5 L144.0 485.5M149.0 455.0 L152.0 456.0 L153.5 460.0M170.0 458.0 L170.5 461.5M184.0 403.0 L187.0 410.0 L189.0 418.0 L191.0 426.0M188.0 412.0 L192.0 420.0 L195.0 425.0M160.0 407.0 L162.0 406.5M180.0 428.0 L184.0 428.5 L189.0 430.0M116.0 496.0 L114.5 499.0M411.0 432.8 L415.8 436.0M415.8 439.2 L419.0 437.6M422.2 436.0 L424.6 439.2M415.0 453.6 L416.6 454.4M481.4 412.0 L483.8 410.4M483.0 423.2 L486.2 420.0M483.8 434.4 L486.2 432.8M488.6 439.2 L491.8 440.0M494.2 448.0 L496.6 449.6M499.8 445.6 L502.2 447.2 L500.6 448.8M507.0 458.4 L509.4 460.0M511.8 475.2 L514.2 476.8M515.0 468.0 L516.6 469.6M533.4 454.4 L535.8 457.6M537.4 463.2 L539.0 466.4M552.6 428.0 L554.2 432.8M561.4 420.8 L565.4 425.6M554.2 415.2 L557.4 417.6 L555.0 417.6M559.8 461.6 L563.0 466.4M559.8 497.6 L571.0 505.6M573.4 496.0 L579.0 502.4M567.0 402.4 L570.2 400.0M606.2 402.4 L607.8 405.6M594.2 440.8 L600.6 438.4 L599.8 441.6 L594.2 441.6M689.4 416.8 L692.6 421.6M700.6 412.0 L700.3 416.0M700.0 418.4 L699.3 423.2M695.8 428.0 L695.0 430.4 L697.4 431.2 L699.0 428.8M676.6 458.4 L683.0 460.8M662.2 479.2 L665.4 484.0M647.8 404.0 L651.0 405.6M460.6 397.6 L463.8 396.0 L467.0 398.4M468.6 402.4 L472.6 404.0M475.0 394.4 L475.0 402.4 L478.2 399.2M479.8 405.6 L484.6 404.0M489.4 399.2 L494.2 400.8M495.8 396.0 L502.2 391.2 L505.4 394.4M508.6 389.6 L511.8 396.0 L510.2 402.4M513.4 383.2 L518.2 378.4 L519.0 384.8M457.4 407.2 L463.8 412.0 L460.6 415.2 L465.4 420.0M556.6 375.2 L559.8 372.8 L564.6 375.2 L563.0 380.0 L559.8 383.2 L561.4 389.6 L558.2 396.0M665.4 399.2 L668.6 402.4 L663.8 404.0 L670.2 406.4 L662.2 410.4M732.6 389.6 L739.0 396.0 L737.4 400.8 L743.8 402.4 L742.2 408.8 L750.2 412.0 L756.6 418.4M735.8 383.2 L742.2 389.6 L748.6 396.0 L751.8 404.0 L761.4 415.2 L766.2 420.0M740.6 402.4 L748.6 399.2 L753.4 405.6M649.4 480.8 L655.8 492.0 L662.2 496.8 L665.4 501.6 L671.8 506.4M655.8 487.2 L660.6 486.4M671.8 500.8 L678.2 500.0M676.6 492.0 L679.0 494.4M708.6 498.4 L715.0 495.2 L719.0 490.4M699.0 498.4 L701.4 503.2M687.8 505.6 L689.4 509.6M662.2 321.6 L664.6 320.0 L667.0 322.4 L665.4 325.6 L663.0 324.8 L662.2 321.6M681.4 317.6 L686.2 315.2M695.8 312.8 L698.2 310.4 L700.6 313.6 L695.8 312.8M689.4 320.8 L692.6 320.0M718.2 307.2 L723.0 306.4M726.2 315.2 L729.4 313.6M707.0 329.6 L711.8 327.5 L716.6 326.4M699.0 334.4 L703.8 337.6M697.4 342.4 L703.8 344.8 L709.4 342.4M711.8 349.6 L715.0 351.2 L713.4 352.5 L711.8 349.6M670.2 349.6 L672.6 348.0 L674.2 350.9 L671.8 352.5 L670.2 349.6M683.0 355.2 L686.2 356.8M691.0 360.8 L702.2 361.6 L700.6 365.6 L692.6 364.0 L691.0 360.8M687.8 372.0 L692.6 374.4M695.8 376.8 L703.8 378.4M649.4 370.4 L651.8 372.8M655.8 364.8 L657.4 365.6M668.6 342.4 L670.2 343.5M676.6 334.4 L679.0 335.5M655.8 330.4 L658.2 332.0M643.0 316.0 L645.4 315.2M630.2 314.4 L633.4 319.2 L636.6 316.8M609.4 320.8 L612.6 324.0 L615.8 322.4 L619.0 325.6M625.4 328.8 L627.0 329.6M718.2 303.2 L721.4 309.6 L724.6 304.8 L727.8 311.2M751.8 306.4 L755.0 312.8 L758.2 309.6 L759.8 316.0M735.8 335.2 L740.6 332.0 L745.4 336.8 L739.0 338.4M751.8 348.0 L758.2 352.8 L761.4 351.2M717.8 442.9 L721.8 441.9 L723.8 445.9 L728.8 446.9 L732.8 449.9 L737.8 450.9 L741.8 453.9 L745.8 455.9 L749.8 457.9 L754.7 456.9 L759.7 457.9 L762.7 459.9M721.8 444.9 L723.8 449.9 L727.8 447.9 L729.8 451.9 L734.8 452.9 L737.8 456.9 L741.8 458.9 L739.8 460.8M694.9 464.8 L697.9 468.8 L703.9 469.8 L707.9 467.8 L711.8 469.8 L717.8 468.8 L721.8 466.8 L725.8 471.8 L729.8 473.8 L732.8 469.8 L736.8 468.8 L735.8 472.8 L730.8 477.8 L728.8 479.8M694.9 464.8 L695.9 468.8 L701.9 471.8 L705.9 470.8 L709.9 472.8 L715.8 470.8 L719.8 469.8 L723.8 474.8M709.9 460.8 L713.8 459.9 L714.8 462.8 L710.8 463.8 L709.9 460.8M749.8 461.8 L752.7 460.8 L752.7 464.8 L749.8 465.8M757.7 461.8 L761.7 463.8 L763.7 468.8 L759.7 469.8 L757.7 465.8M732.8 494.3 L739.8 490.8 L747.8 487.8M736.8 485.8 L743.8 489.8M769.7 469.8 L773.7 473.8 L775.7 471.8M785.7 461.8 L789.7 459.9 L791.6 463.8 L787.7 465.8 L785.7 461.8M790.6 488.8 L793.6 489.8 L793.6 496.8 L788.7 508.7 L790.6 495.8 L790.6 488.8M797.6 490.8 L805.6 484.8 L809.6 483.8 L813.6 487.8 L819.6 481.8 L817.6 487.8 L813.6 488.8 L809.6 486.8M798.6 488.8 L801.6 491.8 L799.6 493.8M813.6 424.9 L819.6 422.9 L823.6 418.0M837.5 430.9 L841.5 428.9 L839.5 432.4 L837.5 430.9M825.6 478.8 L828.6 479.8 L826.6 482.8 L825.6 478.8M834.5 483.8 L836.5 487.8M797.6 479.8 L800.6 483.8M689.9 417.0 L691.9 420.9M700.9 412.0 L701.4 416.0M700.4 418.0 L699.4 422.9M694.9 428.9 L696.9 430.9 L699.9 428.9 L698.9 426.9M677.9 458.9 L683.9 460.8M676.4 476.8 L678.4 473.3M665.0 480.8 L668.0 479.8 L667.0 482.8 L665.0 480.8M658.0 484.8 L661.0 481.8 L660.0 485.8 L658.0 484.8M677.9 490.8 L680.9 493.8 L678.9 494.3 L677.9 490.8M695.9 504.7 L701.9 499.8 L699.9 508.7M701.9 502.7 L711.8 499.8 L719.8 491.3M685.9 505.7 L688.9 503.7 L687.9 510.7 L685.9 505.7M664.0 497.8 L668.0 500.7 L670.0 505.7 L674.9 504.7 L676.9 509.7 L673.9 515.7 L678.9 519.7M665.0 499.8 L667.0 504.7 L671.9 507.7 L672.9 512.7 L675.9 517.7M736.8 403.0 L743.8 405.0 L749.8 408.0 L755.7 413.0 L763.7 420.0M739.8 402.0 L745.8 407.0 L751.7 406.0 L749.8 411.0M747.8 403.0 L753.7 410.0 L759.7 417.0M769.7 458.9 L771.7 459.9M759.7 473.8 L762.7 477.8 L765.7 475.8M838.5 512.7 L841.5 515.7 L839.5 518.7 L845.5 516.7M842.5 495.8 L847.5 494.8M837.5 418.0 L841.5 416.0M839.5 415.0 L842.5 417.0M814.6 499.8 L818.6 503.7 L821.6 502.7 L824.6 507.7M776.7 500.7 L781.7 497.8 L780.7 501.7M678.9 318.9 L681.9 316.9M689.9 321.9 L691.4 320.9M696.9 313.9 L698.9 311.4 L699.9 314.4 L696.9 313.9M717.8 316.9 L721.8 318.4M726.8 314.9 L730.8 313.9M717.8 307.5 L723.8 307.0M699.9 303.0 L702.9 304.5 L701.4 306.0M691.9 303.0 L693.9 305.0M685.9 294.0 L686.4 297.5M692.9 294.0 L694.4 296.5M705.9 296.0 L709.9 294.0 L711.8 299.0 L708.9 303.0 L710.8 305.0M707.9 328.9 L713.8 326.9 L717.8 326.4M694.9 333.9 L699.9 332.9 L703.9 333.9 L706.9 330.9M696.9 341.9 L701.9 344.4 L705.9 341.9M710.8 341.4 L715.8 339.4M717.8 333.9 L720.8 335.4M710.8 349.9 L713.8 348.9 L715.8 350.8 L712.8 351.8 L710.8 349.9M692.9 349.4 L696.9 349.9M680.9 358.3 L683.4 359.8M690.9 355.8 L693.9 356.3M667.0 359.8 L669.0 361.3M690.9 363.8 L694.9 359.8 L698.9 360.8 L701.9 364.8 L696.9 365.8 L690.9 363.8M686.9 372.8 L691.9 371.3M692.9 376.8 L696.9 377.8M696.9 366.8 L703.9 369.8M699.9 374.8 L703.9 373.8 L704.9 376.8 L700.9 377.8M749.8 300.0 L754.7 306.0 L752.7 310.0 L757.7 312.9 L755.7 317.9 L759.7 319.9 L761.7 327.9M751.7 315.9 L755.7 322.9 L759.7 324.9M763.7 302.0 L767.7 308.0 L765.7 311.9 L769.7 314.9M732.8 336.9 L736.8 333.9 L739.8 332.9 L744.8 328.9 L742.8 333.9 L738.8 336.9M735.8 339.9 L739.8 338.9 L741.8 341.9M729.8 364.8 L733.8 367.8 L731.8 371.8 L736.8 373.8 L734.8 376.8 L739.8 378.8M733.8 359.8 L737.8 363.8 L739.8 367.8 L743.8 369.8 L745.8 365.8M739.8 353.8 L742.8 357.8 L741.8 361.8 L745.8 363.8M737.8 387.8 L741.8 391.7 L745.8 395.7 L749.8 399.7 L755.7 407.7 L763.7 418.7M735.8 389.8 L739.8 395.7 L737.8 399.7 L743.8 402.7 L745.8 407.7 L750.7 406.7 L753.7 411.7M739.8 397.7 L745.8 398.7 L751.7 402.7 L756.7 403.7M743.8 395.7 L749.8 394.7 L753.7 397.7M676.9 401.7 L682.9 400.7 L689.9 398.7M715.8 379.8 L716.8 383.8M695.9 385.8 L697.4 388.8M719.8 384.8 L725.8 385.8 L729.8 383.8M713.8 393.7 L717.8 392.7M787.7 366.8 L789.7 369.8M817.6 377.8 L819.6 380.8M812.6 388.8 L815.6 389.8M819.6 392.7 L825.6 389.8 L829.6 385.8 L834.5 388.8 L839.5 379.8 L842.5 376.8 L845.5 379.8M821.6 395.7 L827.6 393.7 L832.5 390.7M825.6 344.9 L829.6 345.9 L828.6 348.9 L825.6 344.9M843.5 346.9 L844.5 350.8M839.5 335.9 L842.5 337.9M824.6 417.7 L826.6 419.7M770.7 418.7 L772.7 420.7M809.6 319.9 L813.6 318.9 L817.6 320.9 L815.6 324.9 L819.6 326.9 L823.6 324.9 L828.6 327.9 L832.5 325.9 L831.5 330.9M813.6 327.9 L817.6 331.9 L821.6 333.9 L825.6 331.9 L829.6 334.9M789.7 336.9 L791.6 333.9M796.6 332.9 L799.6 331.9M568.0 210.0 L570.0 206.0 L567.0 205.0 L570.0 201.0 L572.0 195.0M559.0 209.0 L560.0 214.0 L561.0 220.0M564.0 214.0 L566.0 218.0M587.0 206.0 L593.0 204.0 L599.0 204.5M586.5 214.0 L592.0 211.0 L599.0 209.0M587.0 218.0 L594.0 215.0 L598.0 212.0M588.0 210.0 L595.0 207.0M608.0 223.0 L610.0 216.0 L608.0 214.0 L612.0 215.0 L613.0 220.0 L616.0 217.0 L619.0 218.0M620.0 218.0 L622.0 215.0 L626.0 215.0M615.0 200.0 L619.0 198.0 L621.0 199.0M645.0 210.0 L647.0 206.0 L650.0 208.0M648.0 188.0 L650.0 186.0 L649.0 184.0M640.0 184.0 L643.0 186.0M591.0 284.0 L595.0 285.5 L600.0 283.0 L603.0 282.0M654.0 285.0 L658.0 288.0 L656.0 291.0 L660.0 289.0M660.0 274.0 L664.0 276.0 L667.0 274.0M684.0 260.0 L686.0 265.0 L689.0 268.0M696.0 272.0 L699.0 274.0 L702.0 273.5M703.0 281.0 L706.0 286.0M686.0 295.0 L689.0 301.0M693.0 296.0 L694.5 301.0M668.0 242.0 L671.0 241.0M745.0 208.0 L749.0 210.0 L751.0 213.0M742.0 228.0 L745.0 230.0 L749.0 229.0M754.0 234.0 L757.0 238.0M746.0 244.0 L751.0 242.0M758.0 244.0 L760.0 249.0 L763.0 248.0M715.0 222.0 L720.0 220.0 L723.0 223.0 L726.0 226.0 L730.0 230.0 L733.0 232.0M714.0 218.0 L719.0 219.0M618.0 104.0 L621.0 107.0 L624.0 104.0 L626.0 108.0 L629.0 106.0 L631.0 109.0M636.0 116.0 L638.0 120.0 L640.0 116.0M644.0 114.0 L646.0 116.0M660.0 169.0 L664.0 171.0 L667.0 175.0 L670.0 172.0 L673.0 176.0 L676.0 173.0 L679.0 177.0M674.0 146.0 L679.0 145.0 L684.0 147.0 L682.0 151.0 L677.0 150.0 L675.0 154.0 L680.0 156.0 L686.0 155.0M670.0 155.0 L674.0 159.0 L680.0 160.0 L685.0 162.0 L682.0 165.0 L677.0 164.0M676.0 166.0 L681.0 168.0 L684.0 171.0M690.0 140.0 L696.0 146.0 L700.0 152.0 L706.0 159.0 L710.0 164.0M706.0 161.0 L710.0 166.0 L713.0 164.0 L710.0 160.0M709.0 153.0 L713.0 152.0 L715.0 156.0 L711.0 158.0M686.0 114.0 L690.0 116.0M690.0 134.0 L694.0 138.0M708.0 137.0 L713.0 139.0 L719.0 142.0 L717.0 145.0 L713.0 142.0M705.0 133.0 L707.0 136.0M621.0 165.0 L624.0 166.5M593.0 170.0 L595.0 172.0M731.0 171.0 L734.0 173.0 L732.0 175.0 L730.0 173.0 L731.0 171.0M718.0 179.0 L721.0 182.0 L722.0 185.0M713.0 180.0 L715.0 181.5M674.0 90.0 L677.0 92.0M665.0 70.0 L670.0 75.0 L675.9 78.0 L679.9 76.0 L677.9 80.0M687.9 70.0 L692.9 75.0 L696.9 72.0 L699.9 70.0M724.8 81.9 L728.8 80.0 L729.8 83.9 L726.8 84.9M749.8 75.0 L755.7 80.0 L758.7 83.9M752.7 73.0 L757.7 77.0 L760.7 80.0M745.8 80.0 L749.8 83.9 L753.7 86.9 L751.7 89.9M739.8 85.9 L743.8 89.9 L747.8 92.9 L745.8 94.9M735.8 90.9 L739.8 94.9 L742.8 97.9M728.8 95.9 L732.8 101.9 L735.8 104.9M726.8 98.9 L730.8 103.9M719.8 103.9 L724.8 106.9 L729.8 104.9 L734.8 102.9M719.8 113.9 L727.8 111.9 L734.8 109.9 L732.8 112.9 L726.8 114.9 L722.8 115.9M728.8 116.9 L732.8 119.9 L731.8 123.8 L734.8 121.8M735.8 115.9 L739.8 119.9 L742.8 117.9 L745.8 121.8 L747.8 124.8M749.8 119.9 L752.7 123.8 L755.7 119.9 L758.7 116.9 L761.7 113.9M764.7 110.9 L766.7 104.9 L765.7 99.9 L767.7 95.9M777.7 133.8 L781.7 129.8 L779.7 128.8 L783.7 125.8 L782.7 123.8 L786.7 121.8M778.7 131.8 L782.7 132.8 L784.7 129.8 L787.7 127.8M762.7 138.8 L765.7 134.8 L763.7 133.8 L766.7 137.8 L769.7 136.8M750.7 149.8 L753.7 145.8 L754.7 149.8 L757.7 147.8M789.7 107.9 L793.6 109.9 L796.6 107.9 L799.6 109.9M801.6 84.9 L804.6 83.9 L805.6 87.9 L802.6 88.9 L801.6 84.9M814.6 135.8 L817.6 139.8 L815.6 142.8 L819.6 144.8 L817.6 147.8 L821.6 149.8M813.6 142.8 L821.6 144.8 L829.6 148.8M819.6 146.8 L825.6 147.8M829.6 159.8 L834.5 158.8 L839.5 160.7 L844.5 161.7M830.5 162.7 L832.5 159.8M832.5 115.9 L836.5 118.9 L841.5 119.9M759.7 115.9 L762.7 118.9M705.9 134.8 L707.9 136.8M708.9 137.8 L713.8 139.8 L717.8 142.8 L714.8 143.8 L712.8 140.8M709.9 153.8 L712.8 154.8 L713.8 158.8 L710.8 159.8 L709.9 153.8M704.9 160.7 L706.9 164.7M729.8 171.7 L733.8 173.7 L731.8 174.7 L729.8 171.7M719.8 179.7 L721.8 184.7M725.8 193.0 L723.8 198.0 L719.8 202.9M727.8 194.0 L725.8 200.0M713.8 206.9 L719.8 207.9 L724.8 209.9M712.8 219.9 L717.8 217.9 L719.8 221.9 L716.8 223.9M721.8 223.9 L727.8 227.9 L732.8 229.9M741.8 227.9 L746.8 228.9 L745.8 230.9M753.7 233.9 L757.7 239.9M745.8 241.8 L749.8 244.8M757.7 241.8 L759.7 247.8 L762.7 245.8M739.8 219.9 L737.8 223.9 L741.8 222.9M744.8 207.9 L749.8 210.9 L753.7 213.9M683.9 260.8 L689.9 265.8M695.9 271.8 L701.9 273.8M695.9 275.8 L697.9 277.8M706.9 284.7 L708.9 286.7M685.9 294.7 L686.4 297.7M692.9 293.7 L694.4 296.7M703.9 293.7 L707.9 295.7 L711.8 302.7 L708.9 303.7M691.9 302.7 L693.9 305.7M700.9 304.7 L703.9 307.7M758.7 281.7 L762.7 283.7 L760.7 285.7 L758.7 281.7M762.7 290.7 L764.7 292.7M811.6 279.8 L817.6 280.7 L818.6 285.7 L813.6 285.7 L811.6 279.8M787.7 226.9 L792.6 228.9 L794.6 232.9M779.7 231.9 L783.7 235.9 L781.7 239.9 L785.7 241.8M779.7 218.9 L782.7 223.9 L779.7 226.9M776.7 219.9 L780.7 224.9M769.7 203.9 L773.7 201.9 L776.7 198.0M743.8 192.0 L748.8 190.0 L752.7 189.0M823.6 249.8 L827.6 253.8 L829.6 259.8 L826.6 261.8 L829.6 265.8M819.6 263.8 L823.6 265.8 L821.6 269.8 L825.6 272.8M833.5 265.8 L835.5 271.8 L839.5 273.8M795.6 289.7 L799.6 297.7 L796.6 301.7M803.6 299.7 L807.6 301.7 L809.6 305.7M757.7 300.7 L761.7 304.7 L759.7 307.7 L763.7 309.7 L765.7 305.7 L768.7 308.7M843.5 237.9 L845.5 239.9M835.5 250.8 L839.5 251.8M719.8 180.0 L721.8 183.0M717.8 191.0 L719.8 193.0M186.0 404.0 L188.0 410.0 L187.5 415.0 L189.5 418.5M190.0 403.0 L193.0 408.0 L192.0 412.0 L195.0 417.0M196.5 407.0 L193.0 412.0M195.0 418.0 L201.0 417.5 L205.0 421.5 L204.0 426.0 L200.0 427.0 L197.0 423.0 L195.0 418.0M206.0 424.5 L209.0 425.5 L208.0 428.5 L205.0 427.5 L206.0 424.5M190.0 425.0 L193.0 428.0 L191.0 430.0 L188.0 429.0M810.0 319.0 L816.0 320.0 L820.0 324.0 L825.0 322.0 L830.0 325.0 L833.0 323.0M818.0 328.0 L823.0 330.0 L826.0 327.0 L831.0 329.0 L835.0 326.0 L840.0 328.0M813.0 332.0 L818.0 334.0 L823.0 332.0M830.0 318.0 L833.0 320.0 L837.0 319.0 L840.0 322.0" fill="none" stroke="#000" stroke-width="1.7" stroke-linecap="butt" stroke-linejoin="round"/>
<path d="M476.0 421.5 L478.5 425.5 L475.5 430.0 L473.5 435.0 L473.5 442.0 L477.0 450.0 L485.0 456.0 L491.5 461.0 L503.0 454.0 L510.0 453.0 L516.0 458.0 L519.0 464.0 L521.0 469.0 L530.0 475.0 L538.0 482.0 L533.0 489.0 L536.0 494.0 L539.0 499.0 L549.0 502.0 L558.0 507.0 L566.0 511.0 L572.0 515.0 L581.0 516.0 L584.0 520.0 L586.0 524.0M211.0 474.5 L197.0 485.0 L194.0 490.0 L180.0 500.0 L178.0 505.0 L161.0 521.0M113.0 494.0 L117.0 500.0 L113.0 510.0 L116.0 516.0 L120.0 521.5M647.0 426.4 L652.6 427.2 L658.2 432.0M650.0 426.9 L655.0 428.9 L659.0 432.4" fill="none" stroke="#000" stroke-width="2.6" stroke-linecap="round" stroke-linejoin="round"/>
</g>
<g id="grat" fill="none" stroke="#3a3a3a" stroke-width="0.6" opacity="0.75">
<line x1="407" y1="68" x2="294.5" y2="521.5"/>
<line x1="551" y1="68" x2="709" y2="521.5"/>
<circle cx="468" cy="-172" r="288"/>
<circle cx="468" cy="-172" r="560"/>
</g>
<g id="tk" fill="none" stroke="#000" stroke-width="2.3">
<line x1="407" y1="68" x2="405.2" y2="75.5"/><line x1="294.5" y1="521.5" x2="296.4" y2="514"/>
<line x1="551" y1="68" x2="553.5" y2="75.2"/><line x1="709" y1="521.5" x2="706.5" y2="514.3"/>
<line x1="291.5" y1="68" x2="297" y2="72"/><line x1="631" y1="68" x2="625" y2="72"/>
<line x1="89" y1="240.5" x2="94.5" y2="245.5"/><line x1="848.5" y1="239" x2="843" y2="244.3"/>
</g>
</defs>
<g transform="translate(0.0 0.0)">
<g clip-path="url(#pc)">
<rect x="88.8" y="68.5" width="759.9" height="452.7" fill="#ff4b04"/>
<path d="M284.0 315.0 L285.5 311.5 L284.0 308.5 L275.0 306.5 L255.0 304.0 L240.0 301.0 L225.0 300.5 L212.0 306.0 L200.0 311.5 L185.0 318.0 L165.0 327.5 L144.0 332.0 L126.0 338.0 L102.0 336.5 L99.0 338.0 L99.5 344.0 L103.5 352.0 L95.0 360.0 L80.0 380.0 L80.0 530.0 L190.0 530.0 L190.0 440.0 L180.0 426.0 L165.0 415.0 L170.5 406.0 L174.0 404.0 L176.5 401.0 L176.0 395.0 L175.5 385.0 L174.0 375.0 L173.0 369.0 L170.0 354.0 L175.0 346.0 L190.0 350.0 L210.0 346.0 L225.0 332.0 L250.0 328.0 L280.0 324.0Z" fill="#ffa510"/>
<path d="M182.0 336.0 L190.0 330.0 L200.0 322.0 L215.0 315.0 L230.0 311.0 L248.0 309.5 L258.0 314.0 L259.0 320.0 L250.0 324.0 L230.0 325.0 L224.0 328.0 L214.0 336.0 L209.0 343.0 L199.0 348.0 L188.0 345.0 L178.5 340.0ZM104.0 351.0 L110.0 348.0 L120.0 346.0 L136.0 347.5 L145.0 349.0 L152.0 354.0 L159.0 360.0 L159.0 369.0 L157.0 378.0 L152.0 385.0 L146.0 389.5 L140.0 387.0 L133.0 391.0 L127.0 393.0 L122.0 400.0 L120.0 403.0 L125.0 410.0 L150.0 415.0 L160.0 430.0 L165.0 455.0 L180.0 460.0 L180.0 500.0 L80.0 530.0 L80.0 380.0 L95.0 360.0Z" fill="#ffd021"/>
<path d="M111.0 366.0 L113.0 358.0 L116.0 355.0 L134.0 353.0 L140.0 358.0 L142.5 362.0 L142.0 366.0 L139.0 370.0 L133.0 373.0 L128.0 380.0 L124.0 386.0 L120.0 394.0 L118.0 400.0 L116.0 406.0 L125.0 410.0 L150.0 415.0 L160.0 430.0 L165.0 455.0 L180.0 460.0 L180.0 500.0 L80.0 530.0 L80.0 380.0 L80.0 386.0 L94.5 386.5 L106.5 386.5 L109.0 380.0Z" fill="#fffa18"/>
<path d="M80.0 388.5 L90.0 389.0 L100.0 387.5 L109.0 390.0 L112.0 393.0 L111.0 400.0 L112.0 410.0 L113.0 415.0 L113.0 415.0 L114.0 425.0 L117.0 433.0 L116.0 440.0 L120.0 445.0 L128.0 452.0 L134.0 456.0 L142.0 458.0 L148.0 460.0 L152.0 464.0 L156.0 464.0 L160.0 464.0 L165.0 468.0 L167.0 472.0 L168.0 480.0 L165.0 488.0 L160.0 492.0 L154.0 490.0 L150.0 488.0 L145.0 483.0 L140.0 480.0 L136.0 478.0 L128.0 476.0 L123.0 478.0 L119.0 481.0 L118.0 487.0 L110.0 491.0 L103.0 496.0 L90.0 502.5 L80.0 504.0Z" fill="#e8f2a6"/>
<path d="M92.5 395.0 L97.5 394.5 L102.5 397.5 L101.5 403.0 L100.0 410.0 L98.0 415.0 L93.0 417.0 L90.0 410.0ZM95.0 470.0 L98.0 460.0 L106.0 449.0 L111.0 449.0 L112.5 453.0 L112.0 460.0 L116.0 469.0 L114.0 476.0 L110.0 481.0 L105.0 483.0 L100.0 485.0 L95.0 489.0ZM134.0 463.0 L140.0 461.5 L146.0 462.0 L152.0 467.0 L160.0 471.0 L163.0 476.0 L162.0 481.0 L158.0 484.0 L154.0 485.0 L149.0 483.0 L144.0 479.0 L140.0 475.0 L136.0 469.0Z" fill="#aacf65"/>
<path d="M145.0 474.0 L148.0 470.0 L154.0 469.0 L159.0 471.0 L161.0 474.5 L160.0 480.0 L155.0 480.5 L149.0 479.0 L146.0 477.0Z" fill="#8399fd"/>
<path d="M151.5 474.0 L155.0 472.5 L157.5 474.0 L154.5 475.5Z" fill="#90b2fe"/>
<path d="M124.0 479.0 L128.0 477.0 L134.0 478.0 L140.0 481.0 L144.0 485.0 L140.0 490.0 L132.0 492.5 L130.0 487.0 L127.0 484.0Z" fill="#fffa18"/>
<path d="M165.0 461.0 L172.0 460.0 L171.5 466.0 L168.0 467.5ZM130.0 485.0 L136.0 487.0 L139.0 490.0 L132.0 492.0Z" fill="#ffa510"/>
<path d="M829.5 68.4 L829.0 81.0 L826.9 90.5 L823.2 99.9 L818.0 109.4 L810.6 118.8 L803.3 127.2 L798.0 133.5 L791.7 140.9 L786.5 147.2 L783.3 152.4 L782.3 160.8 L777.0 164.0 L770.7 160.8 L765.5 158.7 L761.3 154.5 L747.6 164.0 L751.8 158.7 L758.1 153.5 L768.6 144.0 L787.5 123.0 L806.4 102.0 L808.5 91.5 L787.5 76.8 L772.8 83.1 L769.7 76.8 L770.7 68.4Z" fill="#ffa510"/>
<path d="M777.0 68.4 L811.1 68.4 L810.1 74.7 L805.4 79.4 L800.1 80.5 L794.9 78.4 L791.7 75.8 L785.4 77.9 L779.1 80.0 L777.0 74.7ZM775.4 158.7 L778.1 153.5 L783.3 149.3 L784.4 154.5 L782.3 160.8 L777.0 164.0Z" fill="#ffd021"/>
<path d="M804.3 68.4 L811.1 68.4 L810.1 72.1 L806.4 73.1Z" fill="#fffa18"/>
<path d="M89 145H93.4L94.7 270L93.5 283L90 291H89Z" fill="#fff"/>
<use href="#land"/>
<use href="#grat"/>
<use href="#tk"/>
</g>
<rect x="88.8" y="68.5" width="759.9" height="452.7" fill="none" stroke="#000" stroke-width="2.1"/>
</g>
<g transform="translate(823.2 0.0)">
<g clip-path="url(#pc)">
<rect x="88.8" y="68.5" width="759.9" height="452.7" fill="#ff4b04"/>
<path d="M283.8 315.0 L285.8 310.0 L283.8 307.0 L274.8 304.0 L264.8 303.0 L249.8 304.5 L239.8 302.0 L231.8 300.0 L225.8 302.0 L217.8 306.0 L208.8 308.5 L197.8 309.0 L184.8 312.5 L174.8 314.0 L169.8 317.0 L164.8 323.0 L157.8 329.0 L149.8 330.0 L143.8 328.0 L135.8 331.0 L124.8 332.5 L107.8 333.0 L99.8 336.0 L96.3 339.0 L97.8 344.0 L100.8 350.0 L103.3 354.0 L94.8 360.0 L79.8 380.0 L79.8 530.0 L189.8 530.0 L189.8 440.0 L179.8 426.0 L164.8 415.0 L170.3 404.0 L173.8 401.0 L176.3 396.0 L175.3 390.0 L174.8 380.0 L173.3 370.0 L169.8 354.0 L174.8 346.0 L189.8 350.0 L209.8 346.0 L224.8 332.0 L249.8 328.0 L279.8 324.0Z" fill="#ffa510"/>
<path d="M181.8 337.0 L184.8 331.0 L189.8 326.0 L195.8 321.0 L204.8 318.0 L212.8 317.0 L219.8 316.0 L227.8 313.5 L233.8 310.5 L241.8 311.0 L248.8 313.0 L251.8 316.0 L244.8 319.0 L235.8 319.0 L229.8 321.0 L223.8 327.0 L213.8 336.0 L208.8 343.0 L198.8 348.0 L187.8 345.0 L178.3 340.0ZM164.8 341.0 L167.8 338.0 L171.3 341.0 L167.8 344.0ZM103.8 350.0 L107.8 346.0 L112.8 343.0 L119.8 340.0 L129.8 339.0 L137.8 338.0 L143.8 340.0 L148.8 344.0 L153.8 349.0 L156.8 353.0 L161.8 346.0 L163.8 350.0 L162.8 360.0 L162.8 370.0 L160.8 378.0 L155.8 384.0 L149.8 388.0 L143.8 389.0 L138.8 391.0 L132.8 392.0 L126.8 395.0 L121.8 400.0 L117.8 404.0 L124.8 410.0 L149.8 415.0 L159.8 430.0 L164.8 455.0 L179.8 460.0 L179.8 500.0 L79.8 530.0 L79.8 380.0 L94.8 360.0Z" fill="#ffd021"/>
<path d="M198.8 334.0 L199.8 329.0 L203.8 325.5 L209.8 328.0 L205.8 331.0ZM103.8 355.0 L108.8 352.0 L114.8 348.0 L119.8 349.0 L123.8 347.0 L131.8 347.0 L139.8 349.0 L144.8 355.0 L148.8 364.0 L148.8 370.0 L144.8 373.0 L139.8 376.0 L133.8 380.0 L128.8 385.0 L124.8 390.0 L119.8 396.0 L115.8 402.0 L114.8 406.0 L124.8 410.0 L149.8 415.0 L159.8 430.0 L164.8 455.0 L179.8 460.0 L179.8 500.0 L79.8 530.0 L79.8 380.0 L79.8 386.0 L94.3 386.5 L106.3 386.5 L108.8 380.0Z" fill="#fffa18"/>
<path d="M79.8 388.5 L89.8 389.0 L99.8 387.0 L107.8 389.0 L113.8 392.0 L110.8 400.0 L111.8 410.0 L112.8 415.0 L112.8 415.0 L114.8 416.0 L116.8 423.0 L116.8 430.0 L115.8 438.0 L119.8 444.0 L124.8 449.0 L130.8 453.0 L135.8 456.0 L143.8 458.0 L147.8 460.0 L151.8 464.0 L155.8 464.0 L159.8 464.0 L164.8 468.0 L166.8 472.0 L167.8 480.0 L164.8 488.0 L159.8 492.0 L153.8 490.0 L149.8 488.0 L144.8 483.0 L139.8 480.0 L135.8 478.0 L127.8 476.0 L122.8 478.0 L118.8 481.0 L117.8 487.0 L109.8 491.0 L102.8 496.0 L89.8 502.5 L79.8 504.0Z" fill="#e8f2a6"/>
<path d="M89.8 394.0 L97.8 393.5 L104.3 397.0 L104.8 403.0 L102.8 413.0 L99.8 423.0 L103.8 410.0 L100.8 420.0 L93.8 424.0 L89.8 424.0ZM89.8 462.0 L94.8 460.0 L99.8 454.0 L105.8 444.0 L106.8 438.0 L110.8 434.0 L112.8 440.0 L113.8 448.0 L117.8 454.0 L123.8 459.0 L130.8 463.0 L137.8 461.0 L145.8 462.0 L151.8 466.0 L159.8 470.0 L162.8 475.0 L162.8 481.0 L157.8 485.0 L151.8 485.0 L143.8 480.0 L139.8 476.0 L133.8 472.0 L127.8 470.0 L122.8 472.0 L118.8 476.0 L113.8 480.0 L105.8 483.0 L99.8 488.0 L94.8 493.0 L89.8 498.0Z" fill="#aacf65"/>
<path d="M145.8 474.0 L148.8 470.0 L153.8 468.5 L158.8 471.0 L161.8 474.5 L159.8 480.5 L153.8 480.0 L148.8 478.0ZM89.8 401.0 L92.3 401.0 L94.3 404.0 L93.8 408.0 L92.3 410.0 L89.8 410.0Z" fill="#8399fd"/>
<path d="M151.3 474.0 L154.8 472.5 L157.3 474.0 L154.3 475.5Z" fill="#90b2fe"/>
<path d="M123.8 479.0 L127.8 477.0 L133.8 478.0 L139.8 481.0 L143.8 485.0 L139.8 490.0 L131.8 492.5 L129.8 487.0 L126.8 484.0Z" fill="#fffa18"/>
<path d="M164.8 461.0 L171.8 460.0 L171.3 466.0 L167.8 467.5ZM129.8 485.0 L135.8 487.0 L138.8 490.0 L131.8 492.0Z" fill="#ffa510"/>
<path d="M491.0 373.6 L499.0 367.2 L508.6 360.8 L518.2 353.6 L526.2 352.8 L531.0 356.0 L530.2 363.2 L523.0 367.2 L511.8 370.4 L502.2 375.2 L495.8 376.8ZM436.6 391.2 L441.4 386.4 L449.4 384.8 L455.0 387.2 L454.2 392.8 L447.8 395.2 L440.6 394.4Z" fill="#ffa510"/>
<path d="M828.3 68.4 L827.2 81.0 L826.2 90.5 L823.0 99.9 L817.8 109.4 L810.4 118.8 L803.1 127.2 L797.8 133.5 L791.5 140.9 L786.3 147.2 L783.1 152.4 L781.0 160.8 L776.8 164.0 L770.5 160.8 L765.3 158.7 L761.1 154.5 L747.4 164.0 L751.6 158.7 L757.9 153.5 L768.4 144.0 L787.3 123.0 L806.2 102.0 L808.3 91.5 L787.3 76.8 L772.6 83.1 L769.5 76.8 L770.5 68.4Z" fill="#ffa510"/>
<path d="M776.8 68.4 L812.5 68.4 L811.5 74.7 L806.2 80.0 L801.0 81.0 L795.7 78.9 L791.5 75.8 L785.2 77.9 L778.9 80.0 L776.8 74.7ZM775.2 146.1 L776.8 143.5 L778.9 146.1 L776.8 148.7Z" fill="#ffd021"/>
<path d="M89 145H93.4L94.7 270L93.5 283L90 291H89Z" fill="#fff"/>
<use href="#land"/>
<use href="#grat"/>
<use href="#tk"/>
</g>
<rect x="88.8" y="68.5" width="759.9" height="452.7" fill="none" stroke="#000" stroke-width="2.1"/>
</g>
<g transform="translate(1646.4 0.0)">
<g clip-path="url(#pc)">
<rect x="88.8" y="68.5" width="759.9" height="452.7" fill="#ff4b04"/>
<path d="M285.6 315.0 L288.1 310.0 L285.6 306.0 L279.6 303.0 L269.6 301.5 L259.6 301.0 L249.6 301.5 L239.6 300.5 L229.6 300.0 L221.6 303.0 L217.6 301.5 L211.6 304.0 L199.6 306.0 L184.6 309.0 L174.6 311.0 L164.6 314.0 L157.6 319.0 L151.6 320.0 L145.6 323.0 L135.6 328.0 L121.6 331.0 L109.6 332.0 L99.6 335.0 L96.1 338.0 L97.6 344.0 L100.6 349.0 L103.1 354.0 L94.6 360.0 L79.6 380.0 L79.6 530.0 L189.6 530.0 L189.6 440.0 L179.6 426.0 L164.6 415.0 L169.6 406.5 L171.6 405.0 L174.6 410.0 L177.6 414.0 L179.6 408.0 L178.1 400.0 L177.6 390.0 L175.6 380.0 L172.6 368.0 L169.6 354.0 L174.6 346.0 L189.6 350.0 L209.6 346.0 L224.6 332.0 L249.6 328.0 L279.6 324.0Z" fill="#ffa510"/>
<path d="M172.6 336.0 L177.6 332.0 L183.6 327.0 L189.6 320.0 L197.6 316.0 L207.6 314.0 L217.6 313.0 L226.6 310.0 L235.6 311.5 L243.6 313.0 L249.6 315.0 L244.6 317.5 L235.6 319.0 L227.6 320.0 L223.6 324.0 L223.6 328.0 L213.6 336.0 L208.6 343.0 L198.6 348.0 L187.6 345.0 L178.1 340.0ZM259.6 309.0 L275.6 308.5 L273.6 313.0 L269.6 315.0 L263.6 314.0ZM103.6 350.0 L106.6 344.0 L112.6 340.0 L119.6 338.0 L127.6 337.0 L135.6 336.0 L144.6 334.0 L151.6 337.0 L158.6 342.0 L162.6 348.0 L165.6 355.0 L167.6 362.0 L168.6 370.0 L167.6 376.0 L164.6 381.0 L159.6 384.0 L153.6 387.0 L147.6 390.0 L141.6 391.0 L133.6 393.0 L126.6 396.0 L121.6 400.0 L117.6 404.0 L124.6 410.0 L149.6 415.0 L159.6 430.0 L164.6 455.0 L179.6 460.0 L179.6 500.0 L79.6 530.0 L79.6 380.0 L94.6 360.0Z" fill="#ffd021"/>
<path d="M193.6 334.0 L195.6 329.0 L201.6 324.0 L207.6 322.0 L213.6 325.0 L215.6 329.0 L211.6 335.0 L205.6 338.0 L197.6 337.5ZM103.6 355.0 L107.6 350.0 L113.6 346.5 L121.6 346.0 L131.6 346.0 L138.6 344.5 L143.6 348.0 L149.6 354.0 L153.6 360.0 L156.6 366.0 L155.6 372.0 L152.6 377.0 L147.6 381.0 L140.6 383.0 L135.6 385.0 L129.6 389.0 L123.6 394.0 L119.6 399.0 L116.6 404.0 L115.1 406.0 L124.6 410.0 L149.6 415.0 L159.6 430.0 L164.6 455.0 L179.6 460.0 L179.6 500.0 L79.6 530.0 L79.6 380.0 L79.6 386.0 L94.1 386.5 L106.1 386.5 L108.6 380.0Z" fill="#fffa18"/>
<path d="M112.6 360.0 L115.6 355.0 L118.1 359.0 L115.6 366.0ZM138.1 366.0 L140.6 365.0 L141.6 367.0 L139.1 367.5ZM79.6 388.5 L89.6 389.0 L99.6 387.5 L108.6 386.0 L115.6 383.0 L116.6 388.0 L113.6 394.0 L112.6 400.0 L109.6 400.0 L113.6 408.0 L117.6 420.0 L116.6 430.0 L117.6 440.0 L121.6 446.0 L129.6 452.0 L135.6 455.0 L143.6 458.0 L147.6 460.0 L151.6 464.0 L155.6 464.0 L159.6 464.0 L164.6 468.0 L166.6 472.0 L167.6 480.0 L164.6 488.0 L159.6 492.0 L153.6 490.0 L149.6 488.0 L144.6 483.0 L139.6 480.0 L135.6 478.0 L127.6 476.0 L122.6 478.0 L118.6 481.0 L117.6 487.0 L109.6 491.0 L102.6 496.0 L89.6 502.5 L79.6 504.0Z" fill="#e8f2a6"/>
<path d="M89.6 392.5 L98.6 392.0 L105.6 394.0 L108.6 400.0 L107.6 400.0 L109.6 410.0 L112.6 420.0 L114.6 430.0 L114.6 440.0 L119.6 447.0 L126.6 453.0 L135.6 457.0 L143.6 459.0 L149.6 462.0 L155.6 467.0 L161.6 472.0 L163.6 477.0 L160.6 483.0 L155.6 486.0 L149.6 484.0 L144.6 481.0 L139.6 477.0 L133.6 474.0 L127.6 473.0 L122.6 474.0 L119.6 478.0 L113.6 483.0 L105.6 487.0 L99.6 493.0 L89.6 500.0Z" fill="#aacf65"/>
<path d="M93.6 448.0 L98.6 446.5 L100.1 452.0 L98.6 460.0 L93.6 465.0Z" fill="#e8f2a6"/>
<path d="M137.1 469.0 L141.6 464.5 L147.6 468.0 L153.6 469.0 L159.6 472.0 L162.1 476.0 L160.6 481.0 L154.6 483.0 L148.6 479.0 L143.6 475.0 L139.6 472.0ZM89.6 401.0 L96.6 402.0 L99.6 406.0 L100.1 410.0 L100.1 410.0 L97.6 412.5 L89.6 413.0Z" fill="#8399fd"/>
<path d="M150.1 474.5 L154.6 472.0 L158.1 474.5 L154.1 478.0Z" fill="#90b2fe"/>
<path d="M123.6 479.0 L129.6 479.0 L135.6 481.0 L141.6 485.0 L139.6 490.0 L131.6 492.0 L129.6 487.0 L125.6 483.0Z" fill="#fffa18"/>
<path d="M164.6 461.0 L171.6 460.0 L171.1 466.0 L167.6 467.5ZM130.6 486.0 L136.6 488.0 L139.6 490.5 L131.6 492.0Z" fill="#ffa510"/>
<path d="M481.2 378.8 L486.0 370.8 L495.6 364.4 L505.2 356.4 L514.8 350.0 L524.4 347.6 L535.6 349.2 L546.8 348.4 L556.4 344.4 L562.8 343.6 L569.2 348.4 L573.2 354.8 L574.8 361.2 L572.4 367.6 L566.0 371.6 L553.2 373.2 L540.4 370.8 L530.8 367.6 L522.8 370.8 L511.6 374.0 L502.0 378.0 L492.4 381.2 L484.4 382.0ZM421.2 385.2 L431.6 382.0 L446.0 380.4 L454.0 381.2 L459.6 386.0 L458.0 391.6 L452.4 396.4 L446.0 399.6 L438.0 398.0 L428.4 391.6ZM609.2 372.4 L612.4 367.6 L617.2 362.8 L615.6 356.4 L618.8 353.2 L623.6 356.4 L626.8 364.4 L627.6 372.4 L623.6 379.6 L617.2 380.4 L610.8 377.2Z" fill="#ffa510"/>
<path d="M838.6 68.4 L834.4 81.0 L832.3 92.6 L829.1 102.0 L822.8 109.4 L816.5 116.7 L811.3 123.0 L808.1 130.4 L802.9 136.7 L795.5 143.0 L789.2 149.3 L786.1 156.6 L781.9 162.9 L776.6 160.8 L772.4 157.7 L764.0 159.8 L757.7 158.7 L755.6 154.5 L747.2 164.0 L751.4 158.7 L757.7 153.5 L768.2 144.0 L787.1 123.0 L806.0 102.0 L808.1 91.5 L787.1 76.8 L772.4 83.1 L769.3 76.8 L770.3 68.4Z" fill="#ffa510"/>
<path d="M777.7 68.4 L817.6 68.4 L817.6 75.8 L813.4 82.1 L807.1 83.1 L800.8 81.0 L794.5 76.8 L789.2 76.8 L781.9 80.0 L777.7 75.8ZM775.6 146.1 L778.7 137.7 L786.1 132.5 L791.3 134.6 L791.3 139.8 L787.1 146.1 L781.9 150.3 L777.7 150.3Z" fill="#ffd021"/>
<path d="M794.5 68.4 L803.9 68.4 L801.8 73.1 L796.6 72.6Z" fill="#fffa18"/>
<path d="M89 145H93.4L94.7 270L93.5 283L90 291H89Z" fill="#fff"/>
<use href="#land"/>
<use href="#grat"/>
<use href="#tk"/>
</g>
<rect x="88.8" y="68.5" width="759.9" height="452.7" fill="none" stroke="#000" stroke-width="2.1"/>
</g>
<g transform="translate(0.0 588.2)">
<g clip-path="url(#pc)">
<rect x="88.8" y="68.5" width="759.9" height="452.7" fill="#ff4b04"/>
<path d="M287.0 314.8 L289.5 309.3 L287.0 304.8 L280.0 300.8 L270.0 298.8 L262.0 299.8 L254.0 301.8 L246.0 302.8 L240.0 300.8 L233.0 298.8 L225.0 299.3 L215.0 300.8 L200.0 302.8 L190.0 304.8 L180.0 307.8 L170.0 310.8 L162.0 314.8 L156.0 317.8 L150.0 321.8 L144.0 320.8 L138.0 323.8 L130.0 327.8 L120.0 329.8 L113.0 331.8 L103.0 333.8 L99.5 338.8 L99.0 345.8 L103.5 353.8 L95.0 359.8 L80.0 379.8 L80.0 529.8 L190.0 529.8 L190.0 439.8 L180.0 425.8 L165.0 414.8 L170.0 406.3 L172.0 406.8 L176.0 412.8 L179.0 412.8 L181.0 406.8 L179.0 397.8 L178.5 389.8 L177.0 379.8 L174.0 369.8 L170.0 353.8 L175.0 345.8 L190.0 349.8 L210.0 345.8 L225.0 331.8 L250.0 327.8 L280.0 323.8Z" fill="#ffa510"/>
<path d="M274.0 318.8 L276.0 312.8 L275.0 307.8 L270.0 306.3 L262.0 307.3 L254.0 309.8 L245.0 310.8 L235.0 310.3 L225.0 311.3 L215.0 313.3 L205.0 313.8 L195.0 315.8 L189.0 318.8 L184.0 322.8 L178.0 326.8 L170.0 331.8 L162.0 334.8 L154.0 334.8 L145.0 331.8 L136.0 332.8 L124.0 333.8 L114.0 337.8 L108.0 342.8 L105.0 349.8 L103.5 354.8 L95.0 359.8 L80.0 379.8 L80.0 529.8 L180.0 499.8 L180.0 459.8 L165.0 454.8 L160.0 429.8 L150.0 414.8 L125.0 409.8 L119.0 404.8 L123.0 401.8 L128.0 398.8 L134.0 395.8 L142.0 393.8 L150.0 392.8 L154.0 390.8 L161.0 388.8 L168.0 384.8 L172.0 379.8 L174.0 372.8 L171.0 367.8 L168.0 359.8 L166.0 351.8 L164.0 345.8 L170.0 349.8 L190.0 349.8 L210.0 345.8 L225.0 331.8 L250.0 327.8Z" fill="#ffd021"/>
<path d="M190.0 329.8 L193.0 324.8 L200.0 319.8 L208.0 316.8 L217.0 315.8 L219.0 319.8 L217.0 323.8 L213.0 329.8 L208.0 335.8 L200.0 337.8 L194.0 335.8 L190.0 332.8ZM104.0 355.8 L108.0 348.8 L114.0 344.8 L122.0 341.8 L132.0 341.8 L142.0 342.3 L150.0 344.8 L156.0 349.8 L160.0 355.8 L163.0 364.8 L165.0 371.8 L162.0 376.8 L156.0 379.8 L150.0 381.8 L143.0 383.8 L137.0 385.8 L130.0 389.8 L124.0 394.8 L120.0 399.8 L117.0 404.8 L125.0 409.8 L150.0 414.8 L160.0 429.8 L165.0 454.8 L180.0 459.8 L180.0 499.8 L80.0 529.8 L80.0 379.8 L80.0 385.8 L94.5 386.3 L106.5 386.3 L109.0 379.8Z" fill="#fffa18"/>
<path d="M109.0 361.8 L113.0 356.8 L119.0 352.8 L124.0 353.3 L128.0 355.8 L130.0 360.8 L134.0 365.8 L139.0 365.3 L145.0 363.3 L151.0 366.8 L149.0 371.8 L148.0 373.3 L139.0 373.3 L133.0 371.8 L130.0 373.8 L124.0 376.8 L120.0 379.8 L117.0 383.8 L116.0 389.8 L115.5 399.8 L114.0 405.8 L113.0 409.8 L117.0 419.8 L118.0 429.8 L118.0 439.8 L122.0 445.8 L130.0 451.8 L136.0 454.8 L144.0 457.8 L148.0 459.8 L152.0 463.8 L156.0 463.8 L160.0 463.8 L165.0 467.8 L167.0 471.8 L168.0 479.8 L165.0 487.8 L160.0 491.8 L154.0 489.8 L150.0 487.8 L145.0 482.8 L140.0 479.8 L136.0 477.8 L128.0 475.8 L123.0 477.8 L119.0 480.8 L118.0 486.8 L110.0 490.8 L103.0 495.8 L90.0 502.3 L80.0 503.8 L80.0 388.3 L90.0 388.8 L100.0 386.8 L109.0 385.8 L110.0 379.8 L109.5 369.8Z" fill="#e8f2a6"/>
<path d="M90.0 391.3 L100.0 391.8 L106.0 394.3 L110.0 398.8 L112.0 405.8 L109.0 399.8 L113.0 409.8 L116.0 419.8 L117.0 429.8 L117.0 439.8 L121.0 445.8 L128.0 451.8 L136.0 455.8 L144.0 458.8 L150.0 461.8 L156.0 465.8 L162.0 469.8 L165.0 475.8 L164.0 480.8 L159.0 485.8 L154.0 486.8 L149.0 483.8 L144.0 479.8 L139.0 476.8 L133.0 474.8 L127.0 474.8 L122.0 477.8 L118.0 479.8 L113.0 482.8 L106.0 486.8 L100.0 492.8 L90.0 499.8Z" fill="#aacf65"/>
<path d="M90.0 396.8 L95.0 397.8 L97.5 402.8 L96.5 409.8 L95.0 414.8 L94.0 415.8 L90.0 415.8ZM107.5 433.8 L110.0 427.8 L112.0 429.8 L111.0 437.8 L114.0 443.8 L117.0 452.8 L120.0 461.8 L118.0 469.8 L113.0 475.8 L109.0 480.8 L106.0 483.8 L103.0 481.8 L101.0 469.8 L103.0 457.8 L106.0 446.8 L110.0 439.8ZM94.5 487.3 L98.5 486.8 L98.0 488.8 L94.5 489.3ZM137.0 467.8 L141.0 462.8 L147.0 463.8 L153.0 467.8 L159.0 469.8 L163.0 473.8 L162.5 479.8 L158.0 483.8 L154.0 485.8 L150.0 481.8 L146.0 477.8 L140.0 472.8Z" fill="#8399fd"/>
<path d="M147.5 474.3 L154.0 469.8 L160.0 471.3 L163.0 474.8 L162.0 478.8 L159.0 480.8 L154.0 479.8 L150.0 476.8Z" fill="#90b2fe"/>
<path d="M118.0 478.8 L124.0 475.8 L130.0 475.8 L136.0 478.8 L142.0 482.8 L145.0 485.8 L140.0 489.8 L132.0 492.3 L128.0 485.8Z" fill="#e8f2a6"/>
<path d="M125.0 480.8 L130.0 479.8 L136.0 482.8 L141.0 487.8 L136.0 490.8 L131.0 488.8Z" fill="#fffa18"/>
<path d="M165.0 460.8 L172.0 459.8 L171.5 465.8 L168.0 467.3ZM131.0 487.8 L136.0 489.8 L139.0 490.3 L132.0 491.8Z" fill="#ffa510"/>
<path d="M415.2 383.4 L417.6 380.2 L425.6 379.4 L436.8 381.0 L448.0 379.4 L457.6 377.8 L470.4 377.8 L480.0 372.2 L489.6 366.6 L499.2 359.4 L508.8 353.0 L518.4 348.2 L528.0 346.6 L534.4 344.2 L544.0 341.0 L553.6 341.8 L563.2 344.2 L571.2 349.8 L576.0 356.2 L575.2 364.2 L569.6 370.6 L560.0 373.8 L550.4 373.8 L540.8 371.4 L531.2 367.4 L521.6 370.6 L512.0 374.6 L502.4 378.6 L489.6 381.8 L476.8 383.4 L467.2 385.8 L460.8 389.8 L454.4 396.2 L448.0 400.2 L440.0 399.4 L432.0 394.6 L420.8 389.8 L416.0 387.4ZM605.6 367.4 L606.4 359.4 L609.6 352.2 L614.4 349.0 L620.8 350.6 L625.6 356.2 L628.0 362.6 L629.6 370.6 L627.2 377.0 L620.8 380.2 L612.8 379.4 L607.2 375.4ZM537.6 276.2 L540.0 273.0 L544.8 277.8 L546.4 282.6 L544.8 297.0 L540.8 302.6 L537.6 300.2 L536.8 290.6Z" fill="#ffa510"/>
<path d="M512.8 362.6 L517.6 357.8 L523.2 356.2 L523.2 361.8 L518.4 363.4ZM543.2 356.2 L545.6 355.4 L545.6 361.8 L544.0 361.8Z" fill="#ffd021"/>
<path d="M845.3 68.2 L842.1 73.5 L840.0 80.8 L839.0 91.3 L832.7 98.7 L826.4 107.1 L820.1 114.4 L813.8 122.8 L810.6 131.2 L807.5 135.4 L801.2 137.5 L795.9 142.8 L789.6 149.1 L786.5 156.4 L782.3 162.7 L777.0 160.6 L772.8 157.5 L766.5 159.6 L760.2 160.6 L753.9 164.8 L748.7 165.9 L746.6 163.8 L747.6 163.8 L751.8 158.5 L758.1 153.3 L768.6 143.8 L787.5 122.8 L806.4 101.8 L808.5 91.3 L787.5 76.6 L772.8 82.9 L769.7 76.6 L770.7 68.2Z" fill="#ffa510"/>
<path d="M777.0 68.2 L822.2 68.2 L821.1 76.6 L818.0 85.0 L814.8 94.5 L813.8 101.8 L812.7 109.2 L808.5 116.5 L804.3 122.8 L798.0 131.2 L792.8 139.6 L787.5 147.0 L782.3 153.3 L777.0 152.2 L773.9 147.0 L777.0 141.7 L783.3 135.4 L789.6 128.1 L793.8 122.8 L795.9 116.5 L803.3 110.2 L806.4 105.0 L808.5 95.5 L808.5 89.2 L787.5 76.6 L779.1 80.8Z" fill="#ffd021"/>
<path d="M789.6 68.2 L811.7 68.2 L810.6 75.6 L806.4 79.8 L801.2 77.7 L795.9 74.5 L791.7 72.4Z" fill="#fffa18"/>
<path d="M89 145H93.4L94.7 270L93.5 283L90 291H89Z" fill="#fff"/>
<use href="#land"/>
<use href="#grat"/>
<use href="#tk"/>
</g>
<rect x="88.8" y="68.5" width="759.9" height="452.7" fill="none" stroke="#000" stroke-width="2.1"/>
</g>
<g transform="translate(823.2 588.2)">
<g clip-path="url(#pc)">
<rect x="88.8" y="68.5" width="759.9" height="452.7" fill="#ff4b04"/>
<path d="M284.8 314.8 L286.8 308.8 L281.8 303.8 L274.8 299.8 L265.8 296.3 L255.8 295.3 L243.8 297.3 L233.8 295.8 L226.8 292.8 L217.8 292.3 L207.8 292.8 L197.8 294.8 L187.8 295.8 L175.8 297.8 L164.8 299.3 L155.8 300.8 L147.8 303.8 L139.8 307.8 L133.8 311.8 L128.8 314.8 L121.8 317.8 L114.8 320.8 L104.8 320.3 L94.8 321.3 L92.8 326.8 L93.8 333.8 L92.8 337.8 L94.8 341.8 L102.8 351.8 L94.8 359.8 L79.8 379.8 L79.8 529.8 L189.8 529.8 L189.8 439.8 L179.8 425.8 L164.8 414.8 L170.8 406.3 L171.8 412.8 L175.8 416.8 L179.8 418.8 L181.8 415.8 L180.8 407.8 L178.8 399.8 L175.8 389.8 L174.8 377.8 L172.8 367.8 L169.8 353.8 L174.8 345.8 L189.8 349.8 L209.8 345.8 L224.8 331.8 L249.8 327.8 L279.8 323.8Z" fill="#ffa510"/>
<path d="M273.8 318.8 L276.8 309.8 L274.8 307.3 L267.8 306.3 L255.8 305.3 L243.8 305.8 L233.8 306.3 L221.8 304.3 L209.8 304.8 L199.8 306.8 L191.8 308.8 L183.8 312.8 L175.8 315.8 L167.8 318.8 L159.8 319.8 L155.8 322.8 L149.8 323.8 L139.8 321.8 L131.8 324.8 L123.8 328.8 L114.8 330.8 L108.8 332.8 L104.8 337.8 L101.8 343.8 L103.3 351.8 L94.8 359.8 L79.8 379.8 L79.8 529.8 L179.8 499.8 L179.8 459.8 L164.8 454.8 L159.8 429.8 L149.8 414.8 L124.8 409.8 L119.8 404.8 L122.8 402.8 L127.8 399.8 L135.8 397.8 L143.8 395.8 L153.8 394.8 L159.8 395.8 L165.8 391.8 L169.8 387.8 L172.8 381.8 L170.8 374.8 L168.8 367.8 L167.8 359.8 L163.8 349.8 L169.8 349.8 L189.8 349.8 L209.8 345.8 L224.8 331.8 L249.8 327.8Z" fill="#ffd021"/>
<path d="M229.8 317.8 L232.8 314.8 L227.8 312.3 L221.8 310.3 L214.8 310.8 L207.8 312.3 L199.8 314.8 L191.8 317.8 L183.8 321.8 L177.8 326.8 L172.8 331.8 L169.8 336.8 L165.8 338.8 L159.8 337.8 L149.8 335.8 L141.8 332.8 L131.8 330.8 L123.8 333.8 L113.8 338.8 L107.8 343.8 L104.8 349.8 L103.3 354.8 L94.8 359.8 L79.8 379.8 L79.8 529.8 L179.8 499.8 L179.8 459.8 L164.8 454.8 L159.8 429.8 L149.8 414.8 L124.8 409.8 L116.8 405.8 L118.8 403.8 L122.8 398.8 L127.8 394.8 L133.8 391.8 L139.8 389.8 L147.8 387.8 L153.8 383.8 L159.8 381.8 L164.8 377.8 L166.8 369.8 L167.8 363.8 L164.8 353.8 L169.8 349.8 L189.8 349.8 L209.8 345.8 L224.8 329.8Z" fill="#fffa18"/>
<path d="M185.8 333.8 L188.8 329.8 L195.8 325.8 L202.8 321.8 L209.8 319.8 L216.8 318.8 L217.8 321.8 L214.8 325.8 L207.8 329.8 L201.8 333.8 L196.8 337.8 L191.8 339.8 L187.8 337.8ZM103.8 355.8 L107.8 350.8 L113.8 347.3 L119.8 344.8 L129.8 343.8 L135.8 344.8 L143.8 347.3 L150.8 349.8 L155.8 354.8 L158.8 361.8 L157.8 367.8 L153.8 372.8 L147.8 376.8 L141.8 379.8 L135.8 382.8 L129.8 386.8 L123.8 391.8 L119.8 396.8 L115.8 401.8 L113.8 405.8 L112.8 409.8 L116.8 419.8 L117.8 429.8 L117.8 439.8 L121.8 445.8 L129.8 451.8 L135.8 454.8 L143.8 457.8 L147.8 459.8 L151.8 463.8 L155.8 463.8 L159.8 463.8 L164.8 467.8 L167.8 471.8 L168.3 479.8 L165.8 487.8 L159.8 491.8 L153.8 489.8 L149.8 487.8 L144.8 482.8 L139.8 479.8 L135.8 477.8 L127.8 475.8 L122.8 477.8 L118.8 480.8 L117.8 486.8 L109.8 490.8 L102.8 495.8 L89.8 502.3 L79.8 503.8 L79.8 388.3 L89.8 388.8 L99.8 386.8 L108.8 385.8 L108.8 379.8 L106.8 369.8Z" fill="#e8f2a6"/>
<path d="M112.8 358.8 L114.8 355.8 L120.8 354.8 L123.8 360.8 L122.8 366.8 L118.8 369.8 L115.3 372.8 L113.8 365.8ZM89.8 389.8 L96.8 386.8 L102.8 386.3 L108.8 389.8 L113.8 391.8 L112.8 397.8 L113.8 404.8 L108.8 399.8 L112.8 405.8 L116.8 414.8 L118.8 421.8 L117.8 429.8 L117.8 439.8 L121.8 445.8 L127.8 450.8 L133.8 455.8 L141.8 457.8 L147.8 459.8 L151.8 464.8 L155.8 465.8 L159.8 464.8 L164.8 467.8 L166.8 471.8 L166.8 479.8 L164.8 485.8 L159.8 489.8 L155.8 489.8 L151.8 486.8 L146.8 482.8 L141.8 478.8 L135.8 475.8 L129.8 474.8 L123.8 476.8 L120.8 480.8 L116.8 484.8 L110.8 488.8 L102.8 494.8 L89.8 500.8Z" fill="#aacf65"/>
<path d="M89.8 393.3 L98.8 394.3 L103.8 397.8 L106.8 404.8 L109.8 411.8 L113.8 418.8 L105.8 399.8 L108.8 407.8 L113.8 416.8 L115.8 424.8 L115.8 434.8 L116.8 443.8 L121.8 450.8 L127.8 456.8 L129.8 460.8 L135.8 459.3 L143.8 459.8 L149.8 463.8 L153.8 467.8 L158.8 469.8 L163.8 472.8 L165.3 476.8 L162.8 480.8 L158.8 484.8 L154.8 486.3 L149.8 481.8 L144.8 477.8 L139.8 474.8 L133.8 471.8 L127.8 471.3 L122.8 473.8 L120.8 477.8 L116.8 481.8 L110.8 485.8 L104.8 489.8 L99.8 493.8 L94.8 497.8 L89.8 499.8Z" fill="#8399fd"/>
<path d="M104.3 474.3 L106.8 467.8 L110.8 461.8 L114.8 462.3 L117.8 464.8 L116.8 469.8 L113.8 473.8 L108.8 475.8ZM141.3 468.8 L144.8 467.8 L149.8 468.8 L155.8 469.8 L161.8 472.8 L163.8 476.8 L160.8 479.8 L155.8 480.8 L149.8 477.8 L144.8 473.8Z" fill="#90b2fe"/>
<path d="M151.8 473.3 L155.8 472.3 L159.8 473.8 L159.8 476.8 L155.8 476.8 L152.8 475.3Z" fill="#b6cafd"/>
<path d="M121.8 479.8 L127.8 477.8 L133.8 478.8 L139.8 481.8 L143.8 485.8 L139.8 489.8 L131.8 492.3 L127.8 485.8Z" fill="#e8f2a6"/>
<path d="M126.8 482.8 L131.8 481.8 L137.8 484.8 L140.8 488.8 L135.8 490.8 L130.8 489.8ZM159.8 462.3 L165.8 461.3 L171.3 463.8 L167.8 467.8 L164.8 465.8Z" fill="#fffa18"/>
<path d="M415.8 384.2 L420.6 380.2 L431.8 379.4 L444.6 380.2 L457.4 377.8 L467.0 376.2 L476.6 372.2 L486.2 365.8 L495.8 359.4 L505.4 353.0 L515.0 346.6 L524.6 340.2 L532.6 332.2 L539.0 325.8 L543.8 332.2 L550.2 334.6 L558.2 338.6 L566.2 345.0 L574.2 349.0 L578.2 353.0 L580.6 359.4 L577.4 365.8 L569.4 370.6 L559.8 373.8 L550.2 374.6 L540.6 372.2 L531.0 367.4 L524.6 370.6 L515.0 373.8 L505.4 378.6 L495.8 381.8 L483.0 383.4 L470.2 385.0 L462.2 389.8 L455.8 396.2 L447.8 399.4 L438.2 399.4 L428.6 393.0 L419.0 389.8ZM585.4 369.0 L591.8 361.0 L598.2 353.0 L603.0 346.6 L607.8 343.4 L614.2 346.6 L622.2 353.0 L628.6 359.4 L630.2 367.4 L631.0 373.8 L627.0 380.2 L620.6 381.0 L611.0 380.2 L601.4 377.0 L591.8 373.8ZM532.6 277.8 L535.8 269.0 L539.8 267.4 L544.6 273.0 L547.0 277.8 L544.6 287.4 L545.4 297.0 L542.2 305.0 L539.0 313.0 L534.2 316.2 L531.8 306.6 L532.6 293.8Z" fill="#ffa510"/>
<path d="M507.0 362.6 L515.0 356.2 L524.6 352.2 L535.8 348.2 L545.4 348.2 L551.8 351.4 L553.4 357.8 L548.6 362.6 L540.6 364.2 L531.0 362.6 L521.4 364.2 L513.4 365.8ZM490.2 372.2 L499.0 365.8 L505.4 367.4 L497.4 375.4 L492.6 375.4ZM615.0 363.4 L617.4 360.2 L620.6 364.2 L617.4 369.0Z" fill="#ffd021"/>
<path d="M850.3 68.2 L850.3 96.6 L829.3 101.8 L818.8 112.3 L811.5 124.9 L808.3 133.3 L806.2 137.5 L801.0 137.5 L795.7 142.8 L789.4 149.1 L786.3 156.4 L783.1 164.8 L781.0 165.9 L776.8 160.6 L772.6 157.5 L766.3 159.6 L757.9 163.8 L749.5 165.9 L747.4 163.8 L751.6 158.5 L757.9 153.3 L768.4 143.8 L787.3 122.8 L806.2 101.8 L808.3 91.3 L787.3 76.6 L772.6 82.9 L769.5 76.6 L770.5 68.2Z" fill="#ffa510"/>
<path d="M776.8 68.2 L826.2 68.2 L827.2 80.8 L829.3 91.3 L830.4 100.8 L825.1 107.1 L818.8 114.4 L813.6 121.8 L809.4 129.1 L804.1 132.3 L797.8 136.5 L791.5 142.8 L786.3 149.1 L783.1 155.4 L778.9 158.5 L774.7 155.4 L772.6 150.1 L776.8 143.8 L785.2 135.4 L793.6 127.0 L794.7 119.7 L803.1 111.3 L808.3 101.8 L808.3 89.2 L787.3 76.6 L778.9 80.8Z" fill="#ffd021"/>
<path d="M787.3 68.2 L815.7 68.2 L814.6 75.6 L810.4 80.8 L805.2 81.9 L799.9 78.7 L794.7 75.6 L790.5 74.5Z" fill="#fffa18"/>
<path d="M89 145H93.4L94.7 270L93.5 283L90 291H89Z" fill="#fff"/>
<use href="#land"/>
<use href="#grat"/>
<use href="#tk"/>
</g>
<rect x="88.8" y="68.5" width="759.9" height="452.7" fill="none" stroke="#000" stroke-width="2.1"/>
</g>
<g transform="translate(1646.4 588.2)">
<g clip-path="url(#pc)">
<rect x="88.8" y="68.5" width="759.9" height="452.7" fill="#ff4b04"/>
<path d="M284.6 314.8 L286.0 313.4 L283.6 307.8 L276.4 302.2 L268.4 297.4 L258.8 293.4 L246.0 292.6 L233.2 293.4 L223.6 291.0 L217.2 287.8 L207.6 285.4 L194.8 285.4 L186.8 287.8 L178.8 289.8 L169.2 295.8 L156.4 295.8 L143.6 299.4 L130.8 307.0 L119.6 310.6 L111.6 311.0 L103.6 309.4 L95.6 307.8 L90.0 301.4 L79.6 301.4 L94.6 359.8 L79.6 379.8 L79.6 529.8 L189.6 529.8 L189.6 439.8 L179.6 425.8 L164.6 414.8 L170.6 406.3 L171.6 412.8 L175.6 416.8 L179.6 418.8 L183.6 417.8 L182.6 407.8 L178.6 399.8 L175.6 389.8 L174.6 377.8 L172.6 367.8 L169.6 353.8 L174.6 345.8 L189.6 349.8 L209.6 345.8 L224.6 331.8 L249.6 327.8 L279.6 323.8Z" fill="#ffa510"/>
<path d="M273.6 318.8 L275.6 312.8 L272.6 308.8 L265.6 305.8 L255.6 302.8 L245.6 301.8 L233.6 302.3 L221.6 301.3 L209.6 302.8 L199.6 304.8 L189.6 304.8 L179.6 308.8 L169.6 311.3 L157.6 310.8 L149.6 312.8 L139.6 313.8 L133.6 317.8 L127.6 321.8 L121.6 325.8 L115.6 329.8 L109.6 331.8 L103.6 333.8 L98.6 337.8 L98.6 343.8 L103.1 353.8 L94.6 359.8 L79.6 379.8 L79.6 529.8 L179.6 499.8 L179.6 459.8 L164.6 454.8 L159.6 429.8 L149.6 414.8 L124.6 409.8 L119.6 404.8 L127.6 399.8 L135.6 397.8 L143.6 396.8 L155.6 395.8 L161.6 397.8 L167.6 397.8 L170.6 395.8 L169.6 389.8 L174.6 383.8 L174.6 375.8 L169.6 365.8 L165.6 353.8 L169.6 349.8 L189.6 349.8 L209.6 345.8 L224.6 331.8 L249.6 327.8Z" fill="#ffd021"/>
<path d="M239.6 318.8 L249.6 313.8 L248.6 309.8 L241.6 308.8 L233.6 310.3 L223.6 311.3 L213.6 310.8 L205.6 311.3 L197.6 313.8 L189.6 316.8 L181.6 321.8 L175.6 324.8 L169.6 327.8 L163.6 329.8 L157.6 329.8 L149.6 327.8 L139.6 326.3 L131.6 324.3 L125.6 327.8 L119.6 331.8 L112.6 336.8 L107.6 341.8 L105.6 347.8 L103.6 354.8 L94.6 359.8 L79.6 379.8 L79.6 529.8 L179.6 499.8 L179.6 459.8 L164.6 454.8 L159.6 429.8 L149.6 414.8 L124.6 409.8 L118.6 404.8 L122.6 401.8 L127.6 397.8 L133.6 394.8 L139.6 392.8 L147.6 391.8 L153.6 387.8 L159.6 383.8 L164.6 379.8 L167.6 374.8 L168.6 367.8 L167.6 359.8 L164.6 349.8 L169.6 349.8 L189.6 349.8 L209.6 345.8 L224.6 329.8Z" fill="#fffa18"/>
<path d="M106.8 197.4 L109.2 192.6 L114.8 190.7 L122.8 191.8 L130.8 195.8 L135.6 201.4 L133.2 206.2 L127.6 207.8 L121.2 203.8 L114.8 200.6Z" fill="#ffa510"/>
<path d="M182.6 331.8 L185.6 327.8 L192.6 323.8 L199.6 319.8 L208.6 315.8 L217.6 315.3 L222.6 316.8 L219.6 321.8 L214.6 327.8 L208.6 333.8 L199.6 336.8 L191.6 337.8 L184.6 335.8ZM104.6 355.8 L107.6 349.8 L112.6 343.8 L119.6 338.8 L127.6 334.8 L133.6 333.3 L141.6 336.3 L149.6 339.8 L156.6 345.8 L159.6 353.8 L160.6 361.8 L159.6 368.8 L155.6 374.8 L149.6 379.8 L141.6 382.8 L135.6 385.8 L129.6 389.8 L123.6 394.8 L119.6 399.8 L116.6 404.8 L112.6 409.8 L116.6 419.8 L117.6 429.8 L117.6 439.8 L121.6 445.8 L129.6 451.8 L135.6 454.8 L143.6 457.8 L147.6 459.8 L151.6 463.8 L155.6 463.8 L159.6 463.8 L164.6 467.8 L167.6 471.8 L168.1 479.8 L165.6 487.8 L159.6 491.8 L153.6 489.8 L149.6 487.8 L144.6 482.8 L139.6 479.8 L135.6 477.8 L127.6 475.8 L122.6 477.8 L118.6 480.8 L117.6 486.8 L109.6 490.8 L102.6 495.8 L89.6 502.3 L79.6 503.8 L79.6 388.3 L89.6 388.8 L99.6 386.8 L108.6 385.8 L108.6 379.8 L106.6 369.8Z" fill="#e8f2a6"/>
<path d="M111.6 363.8 L113.6 357.8 L117.6 351.8 L123.6 348.3 L131.6 347.3 L136.6 349.8 L139.6 354.8 L144.6 357.8 L148.6 360.8 L146.6 365.8 L141.6 368.8 L136.6 371.8 L131.6 375.8 L126.6 381.8 L122.6 387.8 L119.6 393.8 L116.6 399.8 L114.6 404.8 L110.6 399.8 L113.6 407.8 L118.6 415.8 L119.6 422.8 L117.6 429.8 L117.1 439.8 L121.6 446.8 L127.6 451.8 L133.6 455.8 L139.6 458.8 L145.6 460.8 L151.6 464.8 L155.6 464.8 L159.6 465.8 L163.6 469.8 L164.6 474.8 L162.6 479.8 L157.6 485.8 L151.6 486.8 L145.6 484.8 L141.6 480.8 L135.6 477.8 L127.6 476.8 L122.6 478.8 L116.6 484.8 L110.6 488.8 L102.6 494.8 L89.6 500.8 L89.6 389.8 L97.6 387.3 L105.6 385.8 L108.6 383.8 L109.6 379.8 L110.6 369.8Z" fill="#aacf65"/>
<path d="M89.6 388.3 L99.6 388.3 L105.6 389.8 L109.6 394.8 L110.6 402.8 L110.6 399.8 L113.6 407.8 L117.6 415.8 L118.1 422.8 L116.6 429.8 L116.1 439.8 L120.6 446.8 L126.6 451.8 L132.6 455.8 L138.6 458.8 L145.6 461.8 L151.6 465.8 L156.6 467.8 L161.6 470.8 L163.6 474.8 L162.6 479.8 L158.6 483.8 L153.6 484.8 L148.6 480.8 L143.6 476.8 L137.6 473.8 L131.6 472.8 L126.6 473.8 L122.6 476.8 L117.6 480.8 L110.6 485.8 L104.6 489.8 L99.6 493.8 L94.6 497.8 L89.6 499.8Z" fill="#8399fd"/>
<path d="M89.6 394.8 L96.6 395.8 L98.1 399.8 L96.1 405.8 L97.1 411.8 L94.6 415.8 L89.6 415.8ZM102.6 418.8 L108.6 417.8 L112.6 422.8 L113.6 422.8 L115.6 432.8 L116.6 444.8 L121.6 451.8 L127.6 456.8 L131.6 461.8 L139.6 464.8 L147.6 468.8 L153.6 469.8 L159.6 471.8 L162.6 474.8 L161.6 479.8 L157.6 482.8 L152.6 482.8 L147.6 478.8 L143.6 473.8 L139.6 469.8 L135.6 465.8 L129.6 463.8 L126.6 469.8 L123.6 475.8 L119.6 479.8 L114.6 482.8 L109.6 486.8 L104.6 489.8 L99.6 493.8 L94.6 494.8 L94.6 459.8 L95.6 439.8 L97.6 429.8 L99.6 423.8Z" fill="#90b2fe"/>
<path d="M150.1 474.3 L154.6 471.8 L159.6 474.3 L155.6 478.3 L152.6 477.3Z" fill="#b6cafd"/>
<path d="M123.6 481.8 L131.6 480.8 L139.6 483.8 L143.6 487.8 L139.6 489.8 L133.6 487.8 L127.6 485.8Z" fill="#e8f2a6"/>
<path d="M130.6 489.8 L135.6 489.3 L138.6 490.8 L131.6 492.3ZM159.6 462.3 L165.6 461.3 L171.1 463.8 L167.6 467.8 L164.6 465.8Z" fill="#fffa18"/>
<path d="M408.4 383.4 L410.8 377.0 L420.4 373.8 L434.8 374.6 L447.6 373.8 L460.4 370.6 L473.2 365.8 L482.8 359.4 L492.4 351.4 L502.0 345.0 L511.6 338.6 L521.2 332.2 L526.0 324.2 L527.6 313.0 L529.2 300.2 L530.8 285.8 L531.6 273.0 L534.8 265.8 L540.4 265.8 L546.8 271.4 L545.2 281.0 L544.4 297.0 L543.6 313.0 L544.4 325.8 L551.6 333.8 L559.6 340.2 L567.6 345.0 L575.6 348.2 L580.4 353.0 L588.4 354.6 L596.4 349.8 L601.2 343.4 L607.6 341.0 L615.6 345.0 L623.6 353.0 L628.4 361.0 L630.8 370.6 L630.0 378.6 L623.6 381.8 L612.4 381.0 L601.2 377.8 L591.6 374.6 L582.0 373.8 L569.2 373.8 L556.4 374.6 L543.6 372.2 L530.8 367.4 L524.4 370.6 L514.8 373.8 L505.2 378.6 L495.6 383.4 L482.8 385.0 L470.0 387.4 L462.0 391.4 L455.6 397.8 L447.6 402.6 L439.6 402.6 L431.6 397.8 L422.0 391.4 L412.4 388.2Z" fill="#ffa510"/>
<path d="M428.4 387.4 L431.6 381.8 L444.4 380.2 L457.2 378.6 L470.0 375.4 L479.6 369.0 L489.2 361.0 L498.8 353.0 L508.4 346.6 L518.0 340.2 L526.0 337.0 L532.4 340.2 L543.6 341.8 L553.2 341.8 L559.6 345.0 L567.6 351.4 L572.4 356.2 L574.0 362.6 L569.2 367.4 L559.6 370.6 L550.0 370.6 L540.4 369.0 L530.8 366.6 L521.2 370.6 L511.6 373.8 L502.0 378.6 L492.4 381.8 L479.6 383.4 L466.8 385.0 L458.8 389.8 L452.4 394.6 L444.4 396.2 L434.8 393.0ZM601.2 367.4 L606.0 357.8 L612.4 354.6 L620.4 357.8 L623.6 365.8 L620.4 373.8 L612.4 377.0 L604.4 373.8ZM535.6 289.0 L538.0 281.0 L541.2 285.8 L541.2 293.8 L538.8 301.0Z" fill="#ffd021"/>
<path d="M484.4 373.8 L489.2 367.4 L498.8 359.4 L508.4 353.0 L518.0 348.2 L526.0 349.8 L534.0 354.6 L529.2 359.4 L521.2 364.2 L511.6 370.6 L502.0 377.0 L492.4 381.0 L486.8 379.4Z" fill="#fffa18"/>
<path d="M850.1 68.2 L850.1 96.6 L829.1 101.8 L818.6 112.3 L811.3 124.9 L808.1 133.3 L806.0 137.5 L800.8 137.5 L795.5 142.8 L789.2 149.1 L786.1 156.4 L786.1 164.8 L781.9 169.0 L776.6 162.7 L772.4 157.5 L766.1 159.6 L757.7 163.8 L749.3 165.9 L747.2 163.8 L751.4 158.5 L757.7 153.3 L768.2 143.8 L787.1 122.8 L806.0 101.8 L808.1 91.3 L787.1 76.6 L772.4 82.9 L769.3 76.6 L770.3 68.2Z" fill="#ffa510"/>
<path d="M775.6 68.2 L834.4 68.2 L836.5 80.8 L833.3 91.3 L830.2 100.8 L824.9 107.1 L818.6 114.4 L813.4 121.8 L809.2 129.1 L803.9 132.3 L797.6 136.5 L791.3 142.8 L786.1 150.1 L786.1 158.5 L780.8 163.8 L776.6 160.6 L770.3 154.3 L768.2 150.1 L770.3 143.8 L778.7 137.5 L787.1 129.1 L794.5 119.7 L802.9 111.3 L808.1 101.8 L808.1 89.2 L787.1 76.6 L778.7 80.8Z" fill="#ffd021"/>
<path d="M781.9 68.2 L819.7 68.2 L818.6 80.8 L820.7 91.3 L822.8 101.8 L820.7 108.1 L816.5 113.4 L811.3 117.6 L806.0 116.5 L808.1 108.1 L812.3 99.7 L814.4 93.4 L811.3 89.2 L797.6 80.8 L787.1 76.6ZM779.2 148.0 L780.8 146.4 L781.9 148.5 L780.3 149.6Z" fill="#fffa18"/>
<path d="M794.5 68.2 L810.2 68.2 L808.1 73.5 L802.9 75.6 L797.6 73.5Z" fill="#e8f2a6"/>
<path d="M89 145H93.4L94.7 270L93.5 283L90 291H89Z" fill="#fff"/>
<use href="#land"/>
<use href="#grat"/>
<use href="#tk"/>
</g>
<rect x="88.8" y="68.5" width="759.9" height="452.7" fill="none" stroke="#000" stroke-width="2.1"/>
</g>
<text class="ax" transform="translate(211.3 22.9) rotate(32)">80°N</text>
<text class="ax" transform="translate(-2.9 173.3) rotate(42.6)">70°N</text>
<text class="ax" transform="translate(218.9 546.7) rotate(14)">150°W</text>
<text class="ax" transform="translate(659.2 580.8) rotate(-18.3)">115°W</text>
<g transform="translate(0.0 0.0)"><rect x="92.25" y="66.35" width="201.00" height="77.10" fill="#fff" stroke="#000" stroke-width="4.5"/><rect x="87.7" y="66.2" width="3.2" height="79.5" fill="#000"/><text class="lab" x="128.5" y="117.3">DOO</text></g>
<g transform="translate(823.2 0.0)"><rect x="92.25" y="66.35" width="227.80" height="77.10" fill="#fff" stroke="#000" stroke-width="4.5"/><rect x="87.7" y="66.2" width="3.2" height="79.5" fill="#000"/><text class="lab" x="104.1" y="117.3">DOO+2</text></g>
<g transform="translate(1646.4 0.0)"><rect x="92.25" y="66.35" width="227.70" height="77.10" fill="#fff" stroke="#000" stroke-width="4.5"/><rect x="87.7" y="66.2" width="3.2" height="79.5" fill="#000"/><text class="lab" x="103.9" y="117.3">DOO+4</text></g>
<g transform="translate(0.0 588.2)"><rect x="92.25" y="66.35" width="227.50" height="77.10" fill="#fff" stroke="#000" stroke-width="4.5"/><rect x="87.7" y="66.2" width="3.2" height="79.5" fill="#000"/><text class="lab" x="103.9" y="117.3">DOO+6</text></g>
<g transform="translate(823.2 588.2)"><rect x="92.25" y="66.35" width="227.80" height="77.10" fill="#fff" stroke="#000" stroke-width="4.5"/><rect x="87.7" y="66.2" width="3.2" height="79.5" fill="#000"/><text class="lab" x="104.1" y="117.3">DOO+9</text></g>
<g transform="translate(1646.4 588.2)"><rect x="92.25" y="66.35" width="239.70" height="77.10" fill="#fff" stroke="#000" stroke-width="4.5"/><rect x="87.7" y="66.2" width="3.2" height="79.5" fill="#000"/><text class="lab" x="103.9" y="117.3">DOO+12</text></g>
<rect x="722.00" y="1212.0" width="114.23" height="55.5" fill="#d6e3f0"/>
<rect x="835.93" y="1212.0" width="114.23" height="55.5" fill="#b6cafd"/>
<rect x="949.86" y="1212.0" width="114.23" height="55.5" fill="#90b2fe"/>
<rect x="1063.79" y="1212.0" width="114.23" height="55.5" fill="#8399fd"/>
<rect x="1177.72" y="1212.0" width="114.23" height="55.5" fill="#aacf65"/>
<rect x="1291.65" y="1212.0" width="114.23" height="55.5" fill="#e8f2a6"/>
<rect x="1405.58" y="1212.0" width="114.23" height="55.5" fill="#fffa18"/>
<rect x="1519.51" y="1212.0" width="114.23" height="55.5" fill="#ffd021"/>
<rect x="1633.44" y="1212.0" width="114.23" height="55.5" fill="#ffa510"/>
<rect x="1747.37" y="1212.0" width="113.93" height="55.5" fill="#ff4b04"/>
<rect x="722.0" y="1212.0" width="1139.3" height="55.5" fill="none" stroke="#262626" stroke-width="1.3"/>
<line x1="949.9" y1="1256.0" x2="949.9" y2="1267.5" stroke="#262626" stroke-width="1.3"/>
<line x1="1177.7" y1="1256.0" x2="1177.7" y2="1267.5" stroke="#262626" stroke-width="1.3"/>
<line x1="1405.6" y1="1256.0" x2="1405.6" y2="1267.5" stroke="#262626" stroke-width="1.3"/>
<line x1="1633.4" y1="1256.0" x2="1633.4" y2="1267.5" stroke="#262626" stroke-width="1.3"/>
<text class="tk" x="722.0" y="1329.6">0</text>
<text class="tk" x="949.9" y="1329.6">0.2</text>
<text class="tk" x="1177.7" y="1329.6">0.4</text>
<text class="tk" x="1405.6" y="1329.6">0.6</text>
<text class="tk" x="1633.4" y="1329.6">0.8</text>
<text class="tk" x="1861.3" y="1329.6">1</text>
<text x="1295.6" y="1185.6" style="font-size:44.8px;text-anchor:middle">SIC</text>
</svg></body></html>
